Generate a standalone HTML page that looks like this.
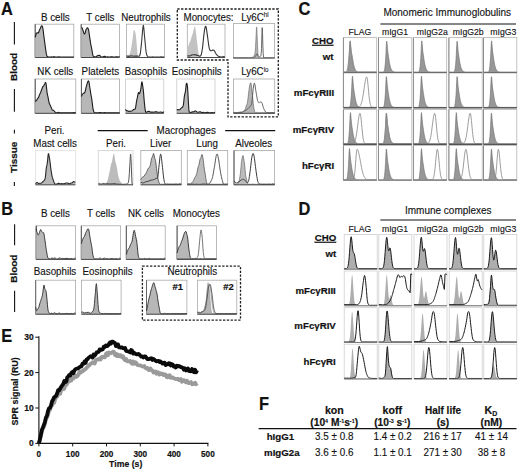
<!DOCTYPE html>
<html><head><meta charset="utf-8"><title>Figure</title>
<style>
html,body{margin:0;padding:0;background:#fff;}
body{width:520px;height:471px;overflow:hidden;}
svg{display:block;font-family:"Liberation Sans",sans-serif;fill:#111;}
svg text{fill:#111;stroke:#111;stroke-width:0.12px;}
svg text[font-weight="bold"]{stroke-width:0.18px;}

</style></head>
<body>
<svg width="520" height="471" viewBox="0 0 520 471">
<rect width="520" height="471" fill="#fff"/>
<text transform="translate(1,14.6) scale(1,1.065)" font-size="16.4" font-weight="bold">A</text>
<line x1="14.4" y1="22.1" x2="14.4" y2="44.4" stroke="#111" stroke-width="1.1"/>
<text transform="translate(17,67) scale(1,1.03) rotate(-90)" x="0" y="0" font-size="9.6" text-anchor="middle" font-weight="bold">Blood</text>
<line x1="14.4" y1="89" x2="14.4" y2="111.7" stroke="#111" stroke-width="1.1"/>
<line x1="14.4" y1="129.7" x2="14.4" y2="133.4" stroke="#111" stroke-width="1.1"/>
<text transform="translate(17,157.4) scale(1,1.03) rotate(-90)" x="0" y="0" font-size="9.6" text-anchor="middle" font-weight="bold">Tissue</text>
<line x1="14.4" y1="182" x2="14.4" y2="186" stroke="#111" stroke-width="1.1"/>
<path d="M177.3,9 H278.3 V116.8 H228 V60 H177.3 Z" fill="none" stroke="#1e1e1e" stroke-width="1.3" stroke-dasharray="2.3,1.5"/>
<text transform="translate(55.3,20.7) scale(1,1.03)" x="0" y="0" font-size="9.8" text-anchor="middle">B cells</text>
<rect x="35.2" y="24.2" width="38.6" height="33.3" fill="#fff" stroke="#a9a9a9" stroke-width="0.8"/>
<line x1="35.2" y1="24.2" x2="35.2" y2="57.5" stroke="#555" stroke-width="1"/>
<polygon points="35.2,57.5 35.2,37.42 35.54,36.17 35.87,34.89 36.21,33.64 36.54,33.13 37.21,32.68 37.55,32.74 37.89,32.94 38.22,33.06 38.56,32.72 38.89,31.77 39.23,30.75 39.56,29.79 39.9,29.17 40.23,28.52 40.57,27.82 40.91,26.91 41.24,26.19 41.58,25.76 41.91,25.76 42.25,26.13 42.58,26.89 42.92,28.67 43.26,31.17 43.59,33.93 43.93,36.57 44.26,38.98 44.6,41.46 44.93,44.1 45.27,46.52 45.61,48.99 45.94,51.23 46.28,53.39 46.61,54.91 46.95,55.97 47.28,56.52 47.62,56.77 47.95,56.81 48.63,57 50.3,57 50.64,56.99 51.31,56.85 51.65,57 52.65,57 52.99,56.93 53.33,56.72 53.66,56.67 54.33,56.7 55,57 57.69,57 58.02,56.94 58.7,56.71 59.03,56.79 59.37,56.96 73.13,57 73.46,56.92 73.8,56.68 73.8,57.5" fill="#b7b7b7" stroke="none"/>
<polyline points="35.2,37.42 35.54,36.17 35.87,34.89 36.21,33.64 36.54,33.13 37.21,32.68 37.55,32.74 37.89,32.94 38.22,33.06 38.56,32.72 38.89,31.77 39.23,30.75 39.56,29.79 39.9,29.17 40.23,28.52 40.57,27.82 40.91,26.91 41.24,26.19 41.58,25.76 41.91,25.76 42.25,26.13 42.58,26.89 42.92,28.67 43.26,31.17 43.59,33.93 43.93,36.57 44.26,38.98 44.6,41.46 44.93,44.1 45.27,46.52 45.61,48.99 45.94,51.23 46.28,53.39 46.61,54.91 46.95,55.97 47.28,56.52 47.62,56.77 47.95,56.81 48.63,57 50.3,57 50.64,56.99 51.31,56.85 51.65,57 52.65,57 52.99,56.93 53.33,56.72 53.66,56.67 54.33,56.7 55,57 57.69,57 58.02,56.94 58.7,56.71 59.03,56.79 59.37,56.96 73.13,57 73.46,56.92 73.8,56.68" fill="none" stroke="#1c1c1c" stroke-width="1.1" stroke-linejoin="round"/>
<line x1="35.2" y1="57.5" x2="73.8" y2="57.5" stroke="#4a4a4a" stroke-width="1"/>
<text transform="translate(100.4,20.7) scale(1,1.03)" x="0" y="0" font-size="9.8" text-anchor="middle">T cells</text>
<rect x="81.2" y="24.2" width="38.3" height="33.3" fill="#fff" stroke="#a9a9a9" stroke-width="0.8"/>
<line x1="81.2" y1="24.2" x2="81.2" y2="57.5" stroke="#555" stroke-width="1"/>
<polygon points="81.2,57.5 81.2,27.76 81.87,27.91 82.21,28.02 82.54,28.92 82.88,30.02 83.22,31.01 83.55,32 83.89,32.95 84.22,33.77 84.56,34.03 84.9,33.66 85.23,32.85 85.57,31.42 85.9,30.08 86.24,29.26 86.58,28.78 86.91,28.22 87.25,27.89 87.58,27.85 87.92,28.22 88.26,28.92 88.59,29.91 88.93,31.91 89.26,34.21 89.6,36.69 89.94,38.93 90.27,41.1 90.61,43.29 90.94,45.12 91.28,46.61 91.61,48.22 91.95,50.12 92.29,52.26 92.62,54.08 92.96,55.41 93.29,56.06 93.63,56.38 93.97,56.48 94.3,56.81 94.64,57 95.31,57 95.65,56.88 96.32,56.41 96.65,56.22 96.99,55.95 97.33,55.76 98.33,55.61 98.67,55.39 99.01,55.29 99.34,55.31 100.01,55.8 100.35,55.95 101.02,56.63 101.36,56.95 102.7,57 103.71,56.57 104.38,56.33 104.72,56.31 105.73,56.82 106.73,56.98 107.74,56.8 108.41,57 109.76,57 111.1,56.77 112.11,56.73 113.12,56.96 115.13,56.97 116.14,56.76 116.48,56.75 117.48,56.91 117.82,57 118.49,57 118.83,56.85 119.5,56.35 119.5,57.5" fill="#b7b7b7" stroke="none"/>
<polyline points="81.2,27.76 81.87,27.91 82.21,28.02 82.54,28.92 82.88,30.02 83.22,31.01 83.55,32 83.89,32.95 84.22,33.77 84.56,34.03 84.9,33.66 85.23,32.85 85.57,31.42 85.9,30.08 86.24,29.26 86.58,28.78 86.91,28.22 87.25,27.89 87.58,27.85 87.92,28.22 88.26,28.92 88.59,29.91 88.93,31.91 89.26,34.21 89.6,36.69 89.94,38.93 90.27,41.1 90.61,43.29 90.94,45.12 91.28,46.61 91.61,48.22 91.95,50.12 92.29,52.26 92.62,54.08 92.96,55.41 93.29,56.06 93.63,56.38 93.97,56.48 94.3,56.81 94.64,57 95.31,57 95.65,56.88 96.32,56.41 96.65,56.22 96.99,55.95 97.33,55.76 98.33,55.61 98.67,55.39 99.01,55.29 99.34,55.31 100.01,55.8 100.35,55.95 101.02,56.63 101.36,56.95 102.7,57 103.71,56.57 104.38,56.33 104.72,56.31 105.73,56.82 106.73,56.98 107.74,56.8 108.41,57 109.76,57 111.1,56.77 112.11,56.73 113.12,56.96 115.13,56.97 116.14,56.76 116.48,56.75 117.48,56.91 117.82,57 118.49,57 118.83,56.85 119.5,56.35" fill="none" stroke="#1c1c1c" stroke-width="1.1" stroke-linejoin="round"/>
<line x1="81.2" y1="57.5" x2="119.5" y2="57.5" stroke="#4a4a4a" stroke-width="1"/>
<text transform="translate(146,20.7) scale(1,1.03)" x="0" y="0" font-size="9.8" text-anchor="middle">Neutrophils</text>
<rect x="126.4" y="24.2" width="38" height="33.3" fill="#fff" stroke="#a9a9a9" stroke-width="0.8"/>
<polygon points="126.4,57.5 126.4,56.72 127.07,56.02 127.4,55.67 128.07,55.29 128.4,54.97 129.07,54.56 129.4,54.29 129.73,53.72 130.07,52.76 130.4,51.51 130.73,50.01 131.07,48.4 131.4,46.63 131.73,44.72 132.07,42.61 132.4,40.24 132.73,37.49 133.07,34.74 133.4,32.25 133.73,30.31 134.07,29.73 134.4,29.92 134.73,30.73 135.07,31.59 135.4,32.74 135.73,34.62 136.07,37.06 136.4,40.51 136.73,44.66 137.07,48.72 137.4,52.56 137.73,55.34 138.07,56.6 138.4,56.92 139.07,56.76 139.4,57 141.73,57 142.07,56.95 143.73,57 144.07,56.92 144.4,56.75 145.4,56.8 145.73,57 148.73,57 149.07,56.96 149.4,56.84 149.73,56.82 150.07,56.98 163.73,57 164.07,56.92 164.4,56.68 164.4,57.5" fill="#c4c4c4" stroke="none"/>
<polyline points="126.4,56.09 127.4,56 128.4,56.36 129.4,56.32 129.73,56.23 130.4,55.92 130.73,55.83 132.73,55.99 133.73,56.25 134.73,56.14 137.07,56.11 138.73,56.28 139.07,56.21 139.4,55.98 139.73,55.46 140.07,54.53 140.4,52.82 140.73,50.25 141.07,47.16 141.4,43.91 141.73,40.69 142.07,36.78 142.4,32.61 142.73,28.89 143.07,26.22 143.4,25.37 143.73,27.27 144.07,30.92 144.4,35.06 144.73,38.48 145.07,41.92 145.4,45.5 145.73,48.89 146.07,51.68 146.4,53.6 146.73,54.85 147.07,55.65 147.4,56.21 147.73,56.7 148.07,57 152.07,57 152.73,56.88 153.4,56.99 160.07,57 161.07,56.79 161.4,56.78 162.73,57 163.73,57 164.4,56.79" fill="none" stroke="#3a3a3a" stroke-width="1.1" stroke-linejoin="round"/>
<line x1="126.4" y1="57.5" x2="164.4" y2="57.5" stroke="#4a4a4a" stroke-width="1"/>
<text transform="translate(183.5,20.5) scale(1,1.03)" x="0" y="0" font-size="9.8" text-anchor="start">Monocytes:</text>
<rect x="187.3" y="24.2" width="37.7" height="33.3" fill="#fff" stroke="#a9a9a9" stroke-width="0.8"/>
<polygon points="187.3,57.5 187.3,49.56 187.63,48.34 187.97,47.1 188.3,45.83 188.63,44.89 188.97,44.03 189.3,43.13 189.64,42.33 189.97,41.66 190.3,41.01 190.64,40.19 190.97,38.97 191.3,37.77 191.64,36.58 191.97,35.62 192.3,34.69 192.64,33.79 192.97,32.72 193.31,31.47 193.64,30.05 193.97,28.65 194.31,27.41 194.64,26.46 194.97,26.36 195.31,27.5 195.64,29.69 195.97,32.59 196.31,35.37 196.64,38.23 196.98,41.11 197.31,43.83 197.64,46.79 197.98,49.65 198.31,52.33 198.64,54.24 198.98,55.48 199.31,56.26 199.64,56.71 199.98,56.81 200.31,56.81 200.65,57 202.65,57 203.31,56.88 203.98,57 204.98,57 205.65,56.66 206.65,56.71 206.98,56.94 207.32,57 209.99,57 210.99,56.68 211.65,56.99 225,57 225,57.5" fill="#c2c2c2" stroke="none"/>
<polyline points="187.3,56.09 188.3,55.82 189.3,56.01 189.64,56 190.3,55.82 190.64,55.7 191.64,55.04 193.31,54.74 193.97,54.7 194.97,54.85 195.64,54.84 195.97,54.88 197.64,55.44 198.64,55.8 199.31,56.12 199.64,56.19 199.98,56.19 200.31,56.06 200.65,55.78 200.98,55.23 201.31,54.34 201.65,52.99 201.98,51.26 202.31,49.17 202.65,46.63 202.98,43.59 203.31,40.27 203.65,37 203.98,34.04 204.32,31.56 204.65,29.44 204.98,27.77 205.32,26.63 205.65,26.23 205.98,26.65 206.32,28.1 206.65,30.2 206.98,32.61 207.32,34.9 207.65,37.25 207.98,39.8 208.32,42.39 208.65,44.82 208.99,46.9 209.32,48.47 209.65,49.56 209.99,50.23 210.32,50.54 210.65,50.68 211.32,50.69 211.99,50.4 212.66,50.04 212.99,50.03 213.66,50.19 213.99,50.39 214.32,50.72 214.66,51.27 214.99,51.9 215.32,52.56 215.99,53.71 216.66,54.7 217.33,55.43 217.99,55.94 218.66,56.3 219.66,56.61 220.33,56.96 221.66,57 222.33,56.84 223,56.67 224,56.71 225,56.86" fill="none" stroke="#333" stroke-width="1.1" stroke-linejoin="round"/>
<line x1="187.3" y1="57.5" x2="225" y2="57.5" stroke="#4a4a4a" stroke-width="1"/>
<text transform="translate(241.3,20.5) scale(1,1.03)" x="0" y="0" font-size="9.8">Ly6C<tspan font-size="6.2" dy="-3.5" stroke-width="0.1">hi</tspan></text>
<rect x="233.4" y="23.6" width="41.2" height="34.7" fill="#fff" stroke="#a9a9a9" stroke-width="0.8"/>
<polygon points="233.4,58.3 233.4,57.8 233.73,57.8 234.07,57.72 234.4,57.5 235.41,57.56 236.08,57.8 240.1,57.8 240.77,57.75 250.82,57.8 251.49,57.42 252.16,57.32 252.49,57.16 252.83,57.07 253.16,56.89 253.5,56.63 253.83,56.02 254.17,55.42 254.5,54.94 254.84,53.89 255.17,51.83 255.51,47.57 255.84,41.12 256.18,34.47 256.51,26.98 256.85,28.28 257.18,37.84 257.52,45.6 257.85,52.49 258.19,56.94 258.52,57.8 270.92,57.8 271.59,57.56 272.26,57.71 272.59,57.76 273.6,57.69 273.93,57.8 274.6,57.8 274.6,58.3" fill="#b2b2b2" stroke="none"/>
<polyline points="233.4,57.8 233.73,57.8 234.07,57.72 234.4,57.5 235.41,57.56 236.08,57.8 240.1,57.8 240.77,57.75 250.82,57.8 251.49,57.42 252.16,57.32 252.49,57.16 252.83,57.07 253.16,56.89 253.5,56.63 253.83,56.02 254.17,55.42 254.5,54.94 254.84,53.89 255.17,51.83 255.51,47.57 255.84,41.12 256.18,34.47 256.51,26.98 256.85,28.28 257.18,37.84 257.52,45.6 257.85,52.49 258.19,56.94 258.52,57.8 270.92,57.8 271.59,57.56 272.26,57.71 272.59,57.76 273.6,57.69 273.93,57.8 274.6,57.8" fill="none" stroke="#777" stroke-width="0.7" stroke-linejoin="round"/>
<polyline points="233.4,57.54 234.4,57.55 235.07,57.8 237.08,57.8 237.75,57.7 238.76,57.79 254.17,57.8 254.5,57.75 254.84,57.34 255.51,56.27 255.84,55.67 256.18,55.1 256.51,54.4 256.85,53.89 257.18,53.91 257.52,54.57 257.85,55.43 258.19,55.95 258.86,56.66 259.19,56.88 259.53,56.97 259.86,56.86 260.53,56.33 260.87,55.65 261.2,53.53 261.54,48.39 261.87,36 262.21,27.63 262.54,33.6 262.88,46.18 263.21,53.7 263.55,56.98 263.88,57.8 272.59,57.8 273.6,57.71 274.6,57.57" fill="none" stroke="#555" stroke-width="0.9" stroke-linejoin="round"/>
<line x1="233.4" y1="58.3" x2="274.6" y2="58.3" stroke="#8a8a8a" stroke-width="1"/>
<text transform="translate(55.3,75.2) scale(1,1.03)" x="0" y="0" font-size="9.8" text-anchor="middle">NK cells</text>
<rect x="35.2" y="79" width="40.6" height="34.3" fill="#fff" stroke="#a9a9a9" stroke-width="0.8"/>
<line x1="35.2" y1="79" x2="35.2" y2="113.3" stroke="#555" stroke-width="1"/>
<polygon points="35.2,113.3 35.2,101.6 35.87,101 36.21,100.6 36.54,100.32 36.88,99.82 37.21,99.14 37.55,98.62 38.22,97.95 38.56,97.37 38.89,96.45 39.23,95.51 39.56,94.63 39.9,93.93 40.23,93.24 40.57,92.55 40.9,91.65 41.24,90.74 41.58,89.81 41.91,88.91 42.25,88 42.58,87.03 42.92,86.58 43.59,86.05 43.92,85.48 44.26,84.68 44.6,84.09 44.93,83.39 45.27,82.54 45.6,82.45 45.94,83.18 46.27,85.45 46.61,88.4 46.94,91.61 47.28,93.8 47.61,95.33 47.95,96.67 48.29,98.53 48.62,100.39 48.96,102.1 49.29,103.24 49.63,104.04 49.96,104.79 50.3,105.53 50.63,106.25 50.97,106.91 51.31,107.6 51.64,108.47 51.98,109.23 52.31,109.88 53.32,110.16 53.99,110.8 54.33,111.08 55,111.99 55.33,112.42 55.67,112.68 56,112.77 57.01,112.79 58.69,112.33 59.36,112.7 59.69,112.8 73.12,112.8 73.79,112.51 74.79,112.74 75.8,112.66 75.8,113.3" fill="#b7b7b7" stroke="none"/>
<polyline points="35.2,101.6 35.87,101 36.21,100.6 36.54,100.32 36.88,99.82 37.21,99.14 37.55,98.62 38.22,97.95 38.56,97.37 38.89,96.45 39.23,95.51 39.56,94.63 39.9,93.93 40.23,93.24 40.57,92.55 40.9,91.65 41.24,90.74 41.58,89.81 41.91,88.91 42.25,88 42.58,87.03 42.92,86.58 43.59,86.05 43.92,85.48 44.26,84.68 44.6,84.09 44.93,83.39 45.27,82.54 45.6,82.45 45.94,83.18 46.27,85.45 46.61,88.4 46.94,91.61 47.28,93.8 47.61,95.33 47.95,96.67 48.29,98.53 48.62,100.39 48.96,102.1 49.29,103.24 49.63,104.04 49.96,104.79 50.3,105.53 50.63,106.25 50.97,106.91 51.31,107.6 51.64,108.47 51.98,109.23 52.31,109.88 53.32,110.16 53.99,110.8 54.33,111.08 55,111.99 55.33,112.42 55.67,112.68 56,112.77 57.01,112.79 58.69,112.33 59.36,112.7 59.69,112.8 73.12,112.8 73.79,112.51 74.79,112.74 75.8,112.66" fill="none" stroke="#1c1c1c" stroke-width="1.1" stroke-linejoin="round"/>
<line x1="35.2" y1="113.3" x2="75.8" y2="113.3" stroke="#4a4a4a" stroke-width="1"/>
<text transform="translate(100.4,75.2) scale(1,1.03)" x="0" y="0" font-size="9.8" text-anchor="middle">Platelets</text>
<rect x="81.4" y="79" width="38.2" height="34.3" fill="#fff" stroke="#a9a9a9" stroke-width="0.8"/>
<line x1="81.4" y1="79" x2="81.4" y2="113.3" stroke="#555" stroke-width="1"/>
<polygon points="81.4,113.3 81.4,96.46 81.74,95.65 82.07,94.87 82.41,94.07 83.08,93.58 83.41,93.26 83.75,93.15 84.42,93.07 84.75,92.57 85.09,91.58 85.42,90.37 85.76,88.88 86.09,87.44 86.43,86.06 86.76,84.94 87.1,83.78 87.43,82.68 87.77,81.74 88.1,81.13 88.44,80.86 88.77,81.1 89.11,82.72 89.44,84.88 89.78,87.23 90.11,89.28 90.45,91.37 90.78,93.62 91.12,95.57 91.45,97.25 91.79,99.29 92.12,101.82 92.46,104.77 92.79,107.33 93.13,109.31 93.46,110.56 93.8,111.47 94.13,112.11 94.47,112.71 94.8,112.8 96.48,112.8 97.15,112.67 97.82,112.8 98.82,112.8 99.49,112.45 100.5,112.5 100.84,112.76 103.52,112.8 103.85,112.79 104.52,112.55 104.86,112.52 105.19,112.69 105.53,112.8 118.93,112.8 119.26,112.72 119.6,112.47 119.6,113.3" fill="#b7b7b7" stroke="none"/>
<polyline points="81.4,96.46 81.74,95.65 82.07,94.87 82.41,94.07 83.08,93.58 83.41,93.26 83.75,93.15 84.42,93.07 84.75,92.57 85.09,91.58 85.42,90.37 85.76,88.88 86.09,87.44 86.43,86.06 86.76,84.94 87.1,83.78 87.43,82.68 87.77,81.74 88.1,81.13 88.44,80.86 88.77,81.1 89.11,82.72 89.44,84.88 89.78,87.23 90.11,89.28 90.45,91.37 90.78,93.62 91.12,95.57 91.45,97.25 91.79,99.29 92.12,101.82 92.46,104.77 92.79,107.33 93.13,109.31 93.46,110.56 93.8,111.47 94.13,112.11 94.47,112.71 94.8,112.8 96.48,112.8 97.15,112.67 97.82,112.8 98.82,112.8 99.49,112.45 100.5,112.5 100.84,112.76 103.52,112.8 103.85,112.79 104.52,112.55 104.86,112.52 105.19,112.69 105.53,112.8 118.93,112.8 119.26,112.72 119.6,112.47" fill="none" stroke="#1c1c1c" stroke-width="1.1" stroke-linejoin="round"/>
<line x1="81.4" y1="113.3" x2="119.6" y2="113.3" stroke="#4a4a4a" stroke-width="1"/>
<text transform="translate(146,75.2) scale(1,1.03)" x="0" y="0" font-size="9.8" text-anchor="middle">Basophils</text>
<rect x="125.6" y="79" width="38.2" height="34.3" fill="#fff" stroke="#c8c8c8" stroke-width="0.8"/>
<polygon points="125.6,113.3 125.6,109.31 125.94,110.02 126.27,110.6 126.61,110.57 127.28,110.81 127.61,110.88 128.62,111.36 128.95,111.39 129.62,111.2 129.96,111.16 130.96,111.21 131.63,110.99 132.3,110.66 132.64,110.41 132.97,109.97 133.64,109.43 134.31,109.19 134.65,109.19 134.98,109.11 135.32,108.53 135.65,107.16 135.99,105.06 136.32,102.7 136.66,100.74 136.99,99.06 137.33,97.67 137.66,95.91 138,94.26 138.33,92.78 138.67,92.58 139,93.02 139.34,93.77 139.67,93.39 140.01,92.36 140.34,91.1 140.68,89.65 141.01,87.78 141.35,84.85 141.68,82.39 142.02,81.88 142.35,83.45 142.69,85.84 143.02,88.02 143.36,90.61 143.69,94.28 144.03,98.71 144.36,102.46 144.7,105.65 145.04,108.74 145.37,110.96 145.71,112.17 146.04,112.45 146.38,112.31 147.05,111.88 148.05,111.49 148.72,111.29 149.06,111.3 149.73,111.73 150.06,111.92 151.07,112.12 152.07,111.92 153.08,112.27 153.41,112.27 155.09,111.91 156.09,111.82 156.43,111.83 157.43,112.13 159.44,112.22 160.45,112.06 160.78,112.06 161.79,112.29 162.46,112.5 162.79,112.54 163.8,111.78 163.8,113.3" fill="#b7b7b7" stroke="none"/>
<polyline points="125.6,109.31 125.94,110.02 126.27,110.6 126.61,110.57 127.28,110.81 127.61,110.88 128.62,111.36 128.95,111.39 129.62,111.2 129.96,111.16 130.96,111.21 131.63,110.99 132.3,110.66 132.64,110.41 132.97,109.97 133.64,109.43 134.31,109.19 134.65,109.19 134.98,109.11 135.32,108.53 135.65,107.16 135.99,105.06 136.32,102.7 136.66,100.74 136.99,99.06 137.33,97.67 137.66,95.91 138,94.26 138.33,92.78 138.67,92.58 139,93.02 139.34,93.77 139.67,93.39 140.01,92.36 140.34,91.1 140.68,89.65 141.01,87.78 141.35,84.85 141.68,82.39 142.02,81.88 142.35,83.45 142.69,85.84 143.02,88.02 143.36,90.61 143.69,94.28 144.03,98.71 144.36,102.46 144.7,105.65 145.04,108.74 145.37,110.96 145.71,112.17 146.04,112.45 146.38,112.31 147.05,111.88 148.05,111.49 148.72,111.29 149.06,111.3 149.73,111.73 150.06,111.92 151.07,112.12 152.07,111.92 153.08,112.27 153.41,112.27 155.09,111.91 156.09,111.82 156.43,111.83 157.43,112.13 159.44,112.22 160.45,112.06 160.78,112.06 161.79,112.29 162.46,112.5 162.79,112.54 163.8,111.78" fill="none" stroke="#1c1c1c" stroke-width="1.1" stroke-linejoin="round"/>
<line x1="125.6" y1="113.3" x2="163.8" y2="113.3" stroke="#4a4a4a" stroke-width="1"/>
<text transform="translate(196.7,75.2) scale(1,1.03)" x="0" y="0" font-size="9.8" text-anchor="middle">Eosinophils</text>
<rect x="176.8" y="79" width="38.2" height="34.3" fill="#fff" stroke="#c8c8c8" stroke-width="0.8"/>
<polygon points="176.8,113.3 176.8,109.95 177.81,109.61 178.48,109.81 179.48,109.69 179.82,109.62 180.15,109.37 180.82,108.47 181.16,108.05 181.49,107.74 182.16,107.46 182.5,107.15 182.83,106.61 183.17,105.67 183.5,104.01 183.84,101.09 184.17,97.73 184.51,95.39 184.84,93.86 185.18,92.56 185.51,90.74 185.85,87.7 186.18,84.35 186.52,83.3 186.85,83.4 187.19,84.59 187.52,87.09 187.86,92.25 188.19,98.33 188.53,104.19 188.86,109.48 189.2,111.86 189.53,112.32 190.2,112.36 190.54,112.62 190.87,112.53 191.88,112.03 192.55,111.73 192.88,111.71 193.55,111.92 193.89,111.89 194.56,111.29 194.89,111.04 195.9,111.02 196.57,111.68 196.91,112.04 197.91,112.31 198.25,112.27 199.92,111.77 200.26,111.76 201.26,112.34 202.27,112.54 203.27,112.37 204.28,112.74 204.61,112.75 206.29,112.45 207.29,112.38 207.63,112.38 208.63,112.65 210.64,112.68 211.65,112.49 211.98,112.48 212.99,112.67 213.66,112.8 213.99,112.8 214.33,112.63 215,112.13 215,113.3" fill="#b7b7b7" stroke="none"/>
<polyline points="176.8,109.95 177.81,109.61 178.48,109.81 179.48,109.69 179.82,109.62 180.15,109.37 180.82,108.47 181.16,108.05 181.49,107.74 182.16,107.46 182.5,107.15 182.83,106.61 183.17,105.67 183.5,104.01 183.84,101.09 184.17,97.73 184.51,95.39 184.84,93.86 185.18,92.56 185.51,90.74 185.85,87.7 186.18,84.35 186.52,83.3 186.85,83.4 187.19,84.59 187.52,87.09 187.86,92.25 188.19,98.33 188.53,104.19 188.86,109.48 189.2,111.86 189.53,112.32 190.2,112.36 190.54,112.62 190.87,112.53 191.88,112.03 192.55,111.73 192.88,111.71 193.55,111.92 193.89,111.89 194.56,111.29 194.89,111.04 195.9,111.02 196.57,111.68 196.91,112.04 197.91,112.31 198.25,112.27 199.92,111.77 200.26,111.76 201.26,112.34 202.27,112.54 203.27,112.37 204.28,112.74 204.61,112.75 206.29,112.45 207.29,112.38 207.63,112.38 208.63,112.65 210.64,112.68 211.65,112.49 211.98,112.48 212.99,112.67 213.66,112.8 213.99,112.8 214.33,112.63 215,112.13" fill="none" stroke="#1c1c1c" stroke-width="1.1" stroke-linejoin="round"/>
<line x1="176.8" y1="113.3" x2="215" y2="113.3" stroke="#4a4a4a" stroke-width="1"/>
<text transform="translate(241.2,75.2) scale(1,1.03)" x="0" y="0" font-size="9.8">Ly6C<tspan font-size="6.2" dy="-3.5" stroke-width="0.1">lo</tspan></text>
<rect x="233.5" y="79" width="41.2" height="34.3" fill="#fff" stroke="#a9a9a9" stroke-width="0.8"/>
<polygon points="233.5,113.3 233.5,112.8 233.83,112.8 234.17,112.67 234.5,112.43 235.51,112.45 236.18,112.71 236.51,112.8 237.18,112.8 237.85,112.68 238.86,112.66 240.53,112.17 240.87,112.06 241.87,112.47 242.21,112.44 242.88,112.25 243.21,111.92 243.55,111.42 243.88,110.84 244.22,110.39 244.55,110.09 244.89,109.71 245.22,109.14 245.56,108.22 245.89,107.14 246.23,106 246.56,105.21 246.9,104.35 247.23,103.42 247.57,101.61 247.9,99.3 248.24,96.51 248.57,93.63 248.91,90.82 249.24,88.29 249.58,86.17 249.91,84.45 250.25,83.41 250.58,82.74 250.92,83 251.25,84.62 251.59,87.33 251.92,90.57 252.26,93.42 252.59,96.54 252.93,100.1 253.26,103.42 253.6,106.31 253.93,108.4 254.27,110.18 254.6,111.61 254.94,112.51 255.27,112.8 255.61,112.8 256.61,112.43 256.95,112.5 257.28,112.68 257.62,112.8 271.02,112.8 271.35,112.62 271.69,112.52 272.36,112.69 272.69,112.74 273.7,112.68 274.03,112.8 274.7,112.8 274.7,113.3" fill="#b5b5b5" stroke="none"/>
<polyline points="233.5,112.8 233.83,112.8 234.17,112.67 234.5,112.43 235.51,112.45 236.18,112.71 236.51,112.8 237.18,112.8 237.85,112.68 238.86,112.66 240.53,112.17 240.87,112.06 241.87,112.47 242.21,112.44 242.88,112.25 243.21,111.92 243.55,111.42 243.88,110.84 244.22,110.39 244.55,110.09 244.89,109.71 245.22,109.14 245.56,108.22 245.89,107.14 246.23,106 246.56,105.21 246.9,104.35 247.23,103.42 247.57,101.61 247.9,99.3 248.24,96.51 248.57,93.63 248.91,90.82 249.24,88.29 249.58,86.17 249.91,84.45 250.25,83.41 250.58,82.74 250.92,83 251.25,84.62 251.59,87.33 251.92,90.57 252.26,93.42 252.59,96.54 252.93,100.1 253.26,103.42 253.6,106.31 253.93,108.4 254.27,110.18 254.6,111.61 254.94,112.51 255.27,112.8 255.61,112.8 256.61,112.43 256.95,112.5 257.28,112.68 257.62,112.8 271.02,112.8 271.35,112.62 271.69,112.52 272.36,112.69 272.69,112.74 273.7,112.68 274.03,112.8 274.7,112.8" fill="none" stroke="#666" stroke-width="0.7" stroke-linejoin="round"/>
<polyline points="233.5,112.54 234.5,112.48 235.17,112.74 236.85,112.8 237.52,112.5 237.85,112.41 239.86,112.34 240.87,112.41 242.54,111.83 243.55,111.39 244.22,111.08 244.89,110.88 245.22,110.73 246.23,109.97 247.23,109.34 247.9,108.7 248.57,108.03 249.24,107.34 249.91,106.92 250.25,106.64 250.58,106.24 250.92,105.64 251.25,104.87 251.59,103.73 251.92,101.96 252.26,99.24 252.59,95.44 252.93,91.48 253.26,88.28 253.6,85.98 253.93,84.2 254.27,83.21 254.6,83.33 254.94,84.74 255.27,87.03 255.61,89.48 255.94,91.36 256.28,93.3 256.61,95.29 256.95,97.33 257.28,99.14 257.62,100.49 257.95,101.46 258.29,102.11 258.62,102.56 258.96,102.82 259.29,102.81 259.63,102.53 259.96,102.14 260.3,102 260.63,101.98 260.97,102.11 261.3,102.13 261.64,102.33 261.97,102.83 262.31,103.79 262.64,104.96 262.98,106.21 263.31,107.35 263.65,108.29 263.98,109.11 264.32,109.81 264.99,110.95 265.66,111.99 265.99,112.4 266.33,112.67 266.66,112.77 267.33,112.79 268.34,112.62 269.34,112.8 271.02,112.8 271.69,112.67 273.7,112.68 274.7,112.57" fill="none" stroke="#555" stroke-width="0.9" stroke-linejoin="round"/>
<line x1="233.5" y1="113.3" x2="274.7" y2="113.3" stroke="#4a4a4a" stroke-width="1"/>
<text transform="translate(54.5,134.4) scale(1,1.03)" x="0" y="0" font-size="9.8" text-anchor="middle">Peri.</text>
<text transform="translate(55.1,146.5) scale(1,1.03)" x="0" y="0" font-size="9.8" text-anchor="middle">Mast cells</text>
<rect x="35.4" y="150.5" width="40" height="34.3" fill="#fff" stroke="#e0e0e0" stroke-width="0.8"/>
<polygon points="35.4,184.8 35.4,183.69 36.07,183.07 36.4,182.75 36.73,182.67 37.4,182.67 37.73,182.83 38.4,183.34 38.73,183.46 39.73,183.29 40.4,183.28 40.73,183.23 41.4,182.93 42.07,182.5 42.4,182.19 42.73,181.74 43.73,180.9 44.4,180.12 44.73,179.67 45.07,178.72 45.4,177.09 45.73,173.8 46.07,169.82 46.4,167.57 46.73,166.01 47.07,164.45 47.4,162.12 47.73,158.88 48.07,155.29 48.4,153.67 48.73,154 49.07,156.15 49.4,157.9 49.73,159.94 50.07,162.11 50.4,164.99 50.73,167.92 51.07,170.33 51.4,172.45 51.73,174.35 52.07,176.07 52.4,177.46 52.73,178.48 53.07,179.45 53.4,180.39 53.73,181.44 54.07,182.35 54.4,183.05 54.73,183.63 55.07,184.05 55.4,184.3 56.4,184.29 57.4,183.64 58.4,183.21 58.73,183.24 59.4,183.59 59.73,183.72 60.73,183.84 61.73,183.62 62.73,183.97 64.07,183.66 65.07,183.39 65.73,183.24 66.4,183.06 67.4,182.94 67.73,183.03 68.73,183.68 69.07,183.86 69.4,183.85 69.73,183.72 70.4,183.33 71.07,183.02 72.07,182.86 72.4,182.64 73.07,181.83 73.4,181.6 74.4,182 75.4,182.13 75.4,184.8" fill="#b8b8b8" stroke="none"/>
<polyline points="35.4,183.69 36.07,183.07 36.4,182.75 36.73,182.67 37.4,182.67 37.73,182.83 38.4,183.34 38.73,183.46 39.73,183.29 40.4,183.28 40.73,183.23 41.4,182.93 42.07,182.5 42.4,182.19 42.73,181.74 43.73,180.9 44.4,180.12 44.73,179.67 45.07,178.72 45.4,177.09 45.73,173.8 46.07,169.82 46.4,167.57 46.73,166.01 47.07,164.45 47.4,162.12 47.73,158.88 48.07,155.29 48.4,153.67 48.73,154 49.07,156.15 49.4,157.9 49.73,159.94 50.07,162.11 50.4,164.99 50.73,167.92 51.07,170.33 51.4,172.45 51.73,174.35 52.07,176.07 52.4,177.46 52.73,178.48 53.07,179.45 53.4,180.39 53.73,181.44 54.07,182.35 54.4,183.05 54.73,183.63 55.07,184.05 55.4,184.3 56.4,184.29 57.4,183.64 58.4,183.21 58.73,183.24 59.4,183.59 59.73,183.72 60.73,183.84 61.73,183.62 62.73,183.97 64.07,183.66 65.07,183.39 65.73,183.24 66.4,183.06 67.4,182.94 67.73,183.03 68.73,183.68 69.07,183.86 69.4,183.85 69.73,183.72 70.4,183.33 71.07,183.02 72.07,182.86 72.4,182.64 73.07,181.83 73.4,181.6 74.4,182 75.4,182.13" fill="none" stroke="#2a2a2a" stroke-width="1.1" stroke-linejoin="round"/>
<line x1="35.4" y1="184.8" x2="75.4" y2="184.8" stroke="#4a4a4a" stroke-width="1"/>
<line x1="97.7" y1="130.6" x2="147.7" y2="130.6" stroke="#111" stroke-width="1.1"/>
<text transform="translate(186.2,134.4) scale(1,1.03)" x="0" y="0" font-size="9.8" text-anchor="middle">Macrophages</text>
<line x1="225.2" y1="130.6" x2="275.2" y2="130.6" stroke="#111" stroke-width="1.1"/>
<text transform="translate(116,146.5) scale(1,1.03)" x="0" y="0" font-size="9.8" text-anchor="middle">Peri.</text>
<rect x="98.3" y="150.5" width="34.7" height="34.3" fill="#fff" stroke="#d2d2d2" stroke-width="0.8"/>
<polygon points="98.3,184.8 98.3,184.3 98.63,184.3 98.97,184.21 99.3,183.99 100.3,184.1 100.64,184.25 103.97,184.3 104.64,184.04 105.31,183.69 105.64,183.37 105.97,183.15 106.31,182.84 106.64,182.43 106.97,181.75 107.31,180.95 107.64,180.05 107.98,178.76 108.31,177.16 108.64,175.41 108.98,173.9 109.31,172.74 109.64,171.54 109.98,170.06 110.31,168.12 110.65,166.12 110.98,164.32 111.31,163.47 111.65,162.81 111.98,162.07 112.31,160.06 112.65,158.07 112.98,156.21 113.31,154.77 113.65,153.75 113.98,153.24 114.32,154.4 114.65,156.64 114.98,159.28 115.32,161.22 115.65,162.39 115.98,163.38 116.32,164.75 116.65,166.51 116.98,168.24 117.32,170.06 117.65,172.2 117.99,174.17 118.32,175.98 118.65,177.25 118.99,178.45 119.32,179.55 119.65,180.31 119.99,180.94 120.32,181.44 120.65,181.88 121.32,182.53 121.66,183.02 121.99,183.59 122.32,184.05 122.66,184.3 133,184.3 133,184.8" fill="#bcbcbc" stroke="none"/>
<polyline points="98.3,183.36 99.3,183.37 100.3,183.84 101.3,183.87 101.64,183.79 102.3,183.5 102.64,183.42 104.64,183.51 105.64,183.72 106.64,183.56 108.64,183.58 109.64,183.8 109.98,183.85 110.98,183.74 111.98,183.8 113.98,183.55 114.98,183.6 116.32,183.9 118.32,184.1 119.32,184.24 120.32,184.29 121.32,184.16 122.32,184.3 123.66,184.3 123.99,184.27 124.66,184.11 125.66,184.19 126.66,183.92 127.33,183.77 127.66,183.65 128,183.29 128.33,182.44 128.66,180.88 129,178.14 129.33,173.55 129.66,168.06 130,162.54 130.33,155.88 130.66,154.06 131,159.08 131.33,166.22 131.67,176.07 132,183.04 132.33,184.3 132.67,184.3 133,184.02" fill="none" stroke="#555" stroke-width="1.0" stroke-linejoin="round"/>
<line x1="98.3" y1="184.8" x2="133" y2="184.8" stroke="#4a4a4a" stroke-width="1"/>
<text transform="translate(160.7,146.5) scale(1,1.03)" x="0" y="0" font-size="9.8" text-anchor="middle">Liver</text>
<rect x="140.8" y="150.5" width="40.5" height="34.3" fill="#fff" stroke="#a9a9a9" stroke-width="0.8"/>
<polygon points="140.8,184.8 140.8,179.84 141.13,179.18 141.47,178.52 141.8,177.85 142.14,177.49 142.81,176.91 143.14,176.74 143.81,176.54 144.15,176.22 144.82,175.06 145.15,174.5 145.82,173.56 146.16,173.06 146.49,172.37 146.82,171.64 147.16,170.88 147.49,170.12 147.83,169.32 148.16,168.48 148.5,168.07 149.17,167.62 149.5,167.11 149.84,166.32 150.17,165.51 150.51,164.31 150.84,162.42 151.18,160.42 151.51,158.57 151.85,157.87 152.51,156.8 152.85,155.47 153.18,154.28 153.52,153.41 153.85,154.1 154.19,155.48 154.52,157.17 154.86,158.33 155.19,159.29 155.53,160.69 155.86,162.87 156.2,165.61 156.53,168.47 156.87,171.26 157.2,173.94 157.54,176.33 157.87,178.45 158.2,179.82 158.54,181.06 158.87,182.11 159.21,183.08 159.54,183.69 160.21,184.13 160.55,184.3 163.9,184.3 164.23,184.22 164.56,184.3 178.62,184.3 179.29,184.02 180.3,184.25 181.3,184.16 181.3,184.8" fill="#bcbcbc" stroke="none"/>
<polyline points="140.8,179.84 141.13,179.18 141.47,178.52 141.8,177.85 142.14,177.49 142.81,176.91 143.14,176.74 143.81,176.54 144.15,176.22 144.82,175.06 145.15,174.5 145.82,173.56 146.16,173.06 146.49,172.37 146.82,171.64 147.16,170.88 147.49,170.12 147.83,169.32 148.16,168.48 148.5,168.07 149.17,167.62 149.5,167.11 149.84,166.32 150.17,165.51 150.51,164.31 150.84,162.42 151.18,160.42 151.51,158.57 151.85,157.87 152.51,156.8 152.85,155.47 153.18,154.28 153.52,153.41 153.85,154.1 154.19,155.48 154.52,157.17 154.86,158.33 155.19,159.29 155.53,160.69 155.86,162.87 156.2,165.61 156.53,168.47 156.87,171.26 157.2,173.94 157.54,176.33 157.87,178.45 158.2,179.82 158.54,181.06 158.87,182.11 159.21,183.08 159.54,183.69 160.21,184.13 160.55,184.3 163.9,184.3 164.23,184.22 164.56,184.3 178.62,184.3 179.29,184.02 180.3,184.25 181.3,184.16" fill="none" stroke="#444" stroke-width="0.8" stroke-linejoin="round"/>
<polyline points="140.8,182.68 141.8,182.53 142.81,182.9 143.14,182.92 143.81,182.8 144.15,182.66 144.82,182.2 145.15,182 146.49,181.66 147.16,181.46 148.16,181.34 149.17,180.84 151.18,180.15 151.51,180.06 152.51,180.05 153.52,179.54 154.52,179.27 155.19,178.94 156.2,178.33 156.53,178.32 156.87,178.48 157.2,178.55 157.54,178.14 157.87,176.92 158.2,174.33 158.54,170.79 158.87,167.29 159.21,164.3 159.54,161.06 159.88,157.91 160.21,155.43 160.55,154.13 160.88,154.42 161.22,156.14 161.55,158.78 161.89,161.83 162.22,164.76 162.56,167.57 162.89,170.79 163.23,174.09 163.56,177.05 163.9,179.52 164.23,181.28 164.56,182.55 164.9,183.37 165.23,183.92 165.57,184.24 166.57,184.3 167.24,184.14 167.58,184.12 168.25,184.27 174.94,184.3 175.94,184.08 176.95,184.23 177.28,184.3 178.62,184.3 179.29,184.1 181.3,184.17" fill="none" stroke="#3a3a3a" stroke-width="1.0" stroke-linejoin="round"/>
<line x1="140.8" y1="184.8" x2="181.3" y2="184.8" stroke="#4a4a4a" stroke-width="1"/>
<text transform="translate(207.1,146.5) scale(1,1.03)" x="0" y="0" font-size="9.8" text-anchor="middle">Lung</text>
<rect x="187.3" y="150.5" width="40.4" height="34.3" fill="#fff" stroke="#a9a9a9" stroke-width="0.8"/>
<polygon points="187.3,184.8 187.3,184.3 187.63,184.3 187.97,184.12 188.3,183.86 189.3,183.77 190.3,183.91 190.64,183.8 191.64,182.95 192.31,182.39 192.64,182.04 192.98,181.53 193.31,180.95 193.64,180.28 193.98,179.57 194.31,178.78 194.65,177.94 194.98,177.34 195.65,176.37 195.98,175.69 196.31,174.81 196.65,173.88 196.98,172.69 197.32,171.01 197.65,169.23 197.98,167.51 198.32,166.58 198.65,165.66 198.99,164.71 199.32,163.03 199.65,161.27 199.99,159.47 200.32,158.63 200.66,158.16 200.99,157.61 201.32,156.25 201.66,154.83 201.99,154.41 202.32,155.12 202.66,156.61 202.99,158.4 203.33,160.48 203.66,163.38 203.99,166.33 204.33,169.16 204.66,170.99 205,172.88 205.33,174.93 205.66,177.32 206,179.52 206.33,181.34 206.67,182.85 207,183.92 207.33,184.3 210,184.3 210.34,184.27 210.67,184.17 211.01,184.3 225.03,184.3 225.7,184.02 226.7,184.25 227.7,184.16 227.7,184.8" fill="#bcbcbc" stroke="none"/>
<polyline points="187.3,184.3 187.63,184.3 187.97,184.12 188.3,183.86 189.3,183.77 190.3,183.91 190.64,183.8 191.64,182.95 192.31,182.39 192.64,182.04 192.98,181.53 193.31,180.95 193.64,180.28 193.98,179.57 194.31,178.78 194.65,177.94 194.98,177.34 195.65,176.37 195.98,175.69 196.31,174.81 196.65,173.88 196.98,172.69 197.32,171.01 197.65,169.23 197.98,167.51 198.32,166.58 198.65,165.66 198.99,164.71 199.32,163.03 199.65,161.27 199.99,159.47 200.32,158.63 200.66,158.16 200.99,157.61 201.32,156.25 201.66,154.83 201.99,154.41 202.32,155.12 202.66,156.61 202.99,158.4 203.33,160.48 203.66,163.38 203.99,166.33 204.33,169.16 204.66,170.99 205,172.88 205.33,174.93 205.66,177.32 206,179.52 206.33,181.34 206.67,182.85 207,183.92 207.33,184.3 210,184.3 210.34,184.27 210.67,184.17 211.01,184.3 225.03,184.3 225.7,184.02 226.7,184.25 227.7,184.16" fill="none" stroke="#555" stroke-width="0.8" stroke-linejoin="round"/>
<polyline points="187.3,184.04 188.3,184.04 188.97,184.3 190.97,184.3 191.64,184.09 193.64,184.18 194.31,184.3 195.31,184.3 195.98,184.22 197.65,184.23 198.32,184.3 200.99,184.3 202.99,183.95 204.33,183.9 205.33,184.07 207.67,184.11 208.33,184.06 208.67,183.97 209,183.79 209.34,183.55 209.67,183.23 210.34,182.2 211.01,181.07 211.34,180.45 211.67,179.73 212.01,178.85 212.34,177.8 212.68,176.54 213.01,174.98 213.34,173.15 213.68,171.16 214.01,169.2 214.34,167.44 214.68,165.53 215.01,163.33 215.35,160.91 215.68,158.63 216.01,156.72 216.35,155.37 216.68,154.4 217.02,153.97 217.35,154.2 217.68,155.17 218.02,156.67 218.35,158.22 218.69,159.94 219.02,162.08 219.35,164.48 219.69,166.83 220.02,169.07 220.35,171.21 220.69,173.13 221.02,174.93 221.36,176.56 221.69,177.99 222.02,179.3 222.36,180.5 222.69,181.8 223.03,183 223.36,183.86 223.69,184.28 225.36,184.3 227.37,184.17 227.7,184.17" fill="none" stroke="#555" stroke-width="1.0" stroke-linejoin="round"/>
<line x1="187.3" y1="184.8" x2="227.7" y2="184.8" stroke="#4a4a4a" stroke-width="1"/>
<text transform="translate(253.7,146.5) scale(1,1.03)" x="0" y="0" font-size="9.8" text-anchor="middle">Alveoles</text>
<rect x="234" y="150.5" width="40.6" height="34.3" fill="#fff" stroke="#a9a9a9" stroke-width="0.8"/>
<line x1="234" y1="150.5" x2="234" y2="184.8" stroke="#555" stroke-width="1"/>
<polygon points="234,184.8 234,184.3 234.34,184.3 235.01,183.96 236.01,184.1 236.68,184.3 237.02,184.3 237.36,184.23 237.69,183.87 238.03,183.41 238.36,182.81 238.7,182.04 239.03,181.04 239.37,179.76 239.7,178.1 240.04,176.14 240.38,173.6 240.71,170.35 241.05,166.72 241.38,163.11 241.72,160.53 242.05,158.52 242.39,156.83 242.72,155.65 243.06,155.53 243.4,156.93 243.73,158.95 244.07,160.76 244.4,162.79 244.74,165.64 245.07,169.52 245.41,173.07 245.74,175.9 246.08,177.62 246.41,179.02 246.75,180.15 247.09,181.43 247.42,182.59 247.76,183.63 248.09,184.25 249.1,184.3 249.77,184.16 250.11,184.14 250.44,184.3 251.45,184.3 251.78,184.19 252.12,183.98 253.13,184.01 253.46,184.2 253.8,184.3 256.48,184.3 256.82,184.26 257.49,184.02 258.16,184.3 271.92,184.3 272.59,184.01 273.59,184.24 274.6,184.16 274.6,184.8" fill="#bcbcbc" stroke="none"/>
<polyline points="234,184.3 234.34,184.3 235.01,183.96 236.01,184.1 236.68,184.3 237.02,184.3 237.36,184.23 237.69,183.87 238.03,183.41 238.36,182.81 238.7,182.04 239.03,181.04 239.37,179.76 239.7,178.1 240.04,176.14 240.38,173.6 240.71,170.35 241.05,166.72 241.38,163.11 241.72,160.53 242.05,158.52 242.39,156.83 242.72,155.65 243.06,155.53 243.4,156.93 243.73,158.95 244.07,160.76 244.4,162.79 244.74,165.64 245.07,169.52 245.41,173.07 245.74,175.9 246.08,177.62 246.41,179.02 246.75,180.15 247.09,181.43 247.42,182.59 247.76,183.63 248.09,184.25 249.1,184.3 249.77,184.16 250.11,184.14 250.44,184.3 251.45,184.3 251.78,184.19 252.12,183.98 253.13,184.01 253.46,184.2 253.8,184.3 256.48,184.3 256.82,184.26 257.49,184.02 258.16,184.3 271.92,184.3 272.59,184.01 273.59,184.24 274.6,184.16" fill="none" stroke="#666" stroke-width="0.7" stroke-linejoin="round"/>
<polyline points="234,181.31 235.01,181.94 235.68,182.6 236.01,182.86 236.35,182.93 237.02,182.87 237.36,182.73 238.36,181.98 239.03,181.7 239.7,181.22 240.38,180.62 241.05,180.2 241.38,180.05 242.05,179.55 242.39,179.33 242.72,179.22 243.06,179.23 243.73,179.45 244.4,179.84 244.74,180.09 245.07,180.45 245.41,180.89 245.74,181.4 246.41,182.06 246.75,182.27 247.42,182.47 247.76,182.47 248.09,182.18 248.43,181.49 248.76,180.27 249.1,178.51 249.43,176.34 249.77,173.89 250.11,171.33 250.44,168.78 250.78,165.87 251.11,162.82 251.45,160.1 251.78,157.8 252.12,156.06 252.45,154.62 252.79,153.71 253.13,153.43 253.46,153.88 253.8,154.96 254.13,156.53 254.47,158.55 254.8,161.03 255.14,163.78 255.47,166.56 255.81,169.15 256.15,171.56 256.48,174.01 256.82,176.28 257.15,178.35 257.49,180.06 257.82,181.4 258.16,182.29 258.49,182.89 259.17,183.71 259.5,184.07 259.84,184.21 260.17,184.21 260.84,184.12 261.51,184.28 268.22,184.3 269.23,184.08 270.24,184.23 270.57,184.3 271.92,184.3 272.59,184.1 274.6,184.17" fill="none" stroke="#3a3a3a" stroke-width="1.0" stroke-linejoin="round"/>
<line x1="234" y1="184.8" x2="274.6" y2="184.8" stroke="#4a4a4a" stroke-width="1"/>
<text transform="translate(1.33,215.4) scale(1,1.065)" font-size="16.4" font-weight="bold">B</text>
<line x1="14.6" y1="224.2" x2="14.6" y2="245.3" stroke="#111" stroke-width="1.1"/>
<text transform="translate(17.2,268.7) scale(1,1.03) rotate(-90)" x="0" y="0" font-size="9.6" text-anchor="middle" font-weight="bold">Blood</text>
<line x1="14.6" y1="290.8" x2="14.6" y2="312" stroke="#111" stroke-width="1.1"/>
<text transform="translate(55.4,216.6) scale(1,1.03)" x="0" y="0" font-size="9.8" text-anchor="middle">B cells</text>
<rect x="36.2" y="225.8" width="39.4" height="33.6" fill="#fff" stroke="#a9a9a9" stroke-width="0.8"/>
<line x1="36.2" y1="225.8" x2="36.2" y2="259.4" stroke="#333" stroke-width="1"/>
<polygon points="36.2,259.4 36.2,228.97 36.53,230.45 36.87,231.86 37.2,232.56 37.54,233.78 37.87,234.75 38.2,235.06 38.54,234.74 38.87,234 39.21,233.26 39.54,232.52 39.87,231.28 40.21,230.21 40.54,229.59 40.87,229.8 41.21,230.38 41.54,231.08 41.88,231.41 42.54,232.29 42.88,232.7 43.21,232.77 43.55,232.63 43.88,233.43 44.21,235.21 44.55,237.54 44.88,239.84 45.22,242.02 45.55,244.5 45.88,247.13 46.22,249.34 46.55,251.27 46.88,253.11 47.22,255.25 47.55,256.92 47.89,258.01 48.22,258.35 48.55,258.38 48.89,258.33 49.22,258.53 49.56,258.79 49.89,258.9 50.22,258.9 50.56,258.79 51.23,258.35 51.89,258.07 52.23,258.02 53.23,258.64 54.23,257.99 55.23,258.09 55.57,258.3 56.23,258.9 57.57,258.9 57.9,258.8 58.57,258.38 59.57,257.87 60.24,258.17 60.57,258.35 61.58,258.55 61.91,258.54 62.58,258.4 62.91,258.38 63.91,258.81 65.92,258.39 66.92,258.34 68.25,258.67 70.26,258.74 71.26,258.52 72.26,258.69 72.93,258.89 73.6,258.9 74.26,258.39 74.6,258.18 75.6,258.51 75.6,259.4" fill="#b7b7b7" stroke="none"/>
<polyline points="36.2,228.97 36.53,230.45 36.87,231.86 37.2,232.56 37.54,233.78 37.87,234.75 38.2,235.06 38.54,234.74 38.87,234 39.21,233.26 39.54,232.52 39.87,231.28 40.21,230.21 40.54,229.59 40.87,229.8 41.21,230.38 41.54,231.08 41.88,231.41 42.54,232.29 42.88,232.7 43.21,232.77 43.55,232.63 43.88,233.43 44.21,235.21 44.55,237.54 44.88,239.84 45.22,242.02 45.55,244.5 45.88,247.13 46.22,249.34 46.55,251.27 46.88,253.11 47.22,255.25 47.55,256.92 47.89,258.01 48.22,258.35 48.55,258.38 48.89,258.33 49.22,258.53 49.56,258.79 49.89,258.9 50.22,258.9 50.56,258.79 51.23,258.35 51.89,258.07 52.23,258.02 53.23,258.64 54.23,257.99 55.23,258.09 55.57,258.3 56.23,258.9 57.57,258.9 57.9,258.8 58.57,258.38 59.57,257.87 60.24,258.17 60.57,258.35 61.58,258.55 61.91,258.54 62.58,258.4 62.91,258.38 63.91,258.81 65.92,258.39 66.92,258.34 68.25,258.67 70.26,258.74 71.26,258.52 72.26,258.69 72.93,258.89 73.6,258.9 74.26,258.39 74.6,258.18 75.6,258.51" fill="none" stroke="#2a2a2a" stroke-width="0.9" stroke-linejoin="round"/>
<line x1="36.2" y1="259.4" x2="75.6" y2="259.4" stroke="#4a4a4a" stroke-width="1"/>
<text transform="translate(101,216.6) scale(1,1.03)" x="0" y="0" font-size="9.8" text-anchor="middle">T cells</text>
<rect x="81.3" y="225.8" width="39.3" height="33.6" fill="#fff" stroke="#a9a9a9" stroke-width="0.8"/>
<line x1="81.3" y1="225.8" x2="81.3" y2="259.4" stroke="#555" stroke-width="1"/>
<polygon points="81.3,259.4 81.3,243.67 81.64,242.6 81.97,241.54 82.31,240.35 82.64,239.57 82.98,238.76 83.32,237.86 83.65,237.27 83.99,236.91 84.32,236.66 84.66,235.98 84.99,234.88 85.33,233.8 85.67,232.89 86,232.29 86.34,231.71 86.67,231.06 87.01,230.2 87.35,229.45 87.68,228.9 88.02,228.72 88.35,228.88 88.69,229.37 89.03,231.11 89.36,233.19 89.7,235.42 90.03,237.35 90.37,239.28 90.71,241.35 91.04,243.05 91.38,244.57 91.71,246.48 92.05,248.93 92.38,251.72 92.72,254.09 93.06,255.87 93.39,256.98 93.73,257.76 94.06,258.25 94.4,258.82 94.74,258.9 96.42,258.9 97.09,258.67 97.42,258.7 97.76,258.84 98.43,258.9 99.1,258.38 99.44,258.16 100.11,258.14 100.45,258.16 101.12,258.77 101.45,258.9 102.8,258.9 104.14,258.27 104.48,258.13 104.81,258.13 105.48,258.53 105.82,258.69 106.83,258.85 107.84,258.63 108.51,258.9 109.85,258.88 110.86,258.65 111.87,258.57 112.2,258.58 113.21,258.85 115.23,258.88 116.23,258.64 117.24,258.77 117.91,258.9 118.58,258.9 118.92,258.73 119.26,258.44 119.59,258.21 120.6,258.51 120.6,259.4" fill="#b7b7b7" stroke="none"/>
<polyline points="81.3,243.67 81.64,242.6 81.97,241.54 82.31,240.35 82.64,239.57 82.98,238.76 83.32,237.86 83.65,237.27 83.99,236.91 84.32,236.66 84.66,235.98 84.99,234.88 85.33,233.8 85.67,232.89 86,232.29 86.34,231.71 86.67,231.06 87.01,230.2 87.35,229.45 87.68,228.9 88.02,228.72 88.35,228.88 88.69,229.37 89.03,231.11 89.36,233.19 89.7,235.42 90.03,237.35 90.37,239.28 90.71,241.35 91.04,243.05 91.38,244.57 91.71,246.48 92.05,248.93 92.38,251.72 92.72,254.09 93.06,255.87 93.39,256.98 93.73,257.76 94.06,258.25 94.4,258.82 94.74,258.9 96.42,258.9 97.09,258.67 97.42,258.7 97.76,258.84 98.43,258.9 99.1,258.38 99.44,258.16 100.11,258.14 100.45,258.16 101.12,258.77 101.45,258.9 102.8,258.9 104.14,258.27 104.48,258.13 104.81,258.13 105.48,258.53 105.82,258.69 106.83,258.85 107.84,258.63 108.51,258.9 109.85,258.88 110.86,258.65 111.87,258.57 112.2,258.58 113.21,258.85 115.23,258.88 116.23,258.64 117.24,258.77 117.91,258.9 118.58,258.9 118.92,258.73 119.26,258.44 119.59,258.21 120.6,258.51" fill="none" stroke="#2a2a2a" stroke-width="0.9" stroke-linejoin="round"/>
<line x1="81.3" y1="259.4" x2="120.6" y2="259.4" stroke="#4a4a4a" stroke-width="1"/>
<text transform="translate(146,216.6) scale(1,1.03)" x="0" y="0" font-size="9.8" text-anchor="middle">NK cells</text>
<rect x="126.3" y="225.8" width="38.9" height="33.6" fill="#fff" stroke="#a9a9a9" stroke-width="0.8"/>
<line x1="126.3" y1="225.8" x2="126.3" y2="259.4" stroke="#555" stroke-width="1"/>
<polygon points="126.3,259.4 126.3,254.61 126.64,253.52 126.97,252.4 127.31,251.24 127.64,250.47 127.98,249.76 128.31,249.04 128.65,248.52 129.32,247.68 129.65,246.95 129.99,245.98 130.32,245.04 130.66,244.3 131.33,243.18 131.67,242.42 132,241.3 132.34,239.8 132.67,237.67 133.01,235.36 133.34,233.3 133.68,231.29 134.01,230.45 134.35,230.38 134.68,231.49 135.02,232.77 135.35,234.56 135.69,236.55 136.03,237.92 136.36,239.4 136.7,241.18 137.03,243.89 137.37,247.08 137.7,250.72 138.04,253.97 138.37,256.24 138.71,257.42 139.04,258.04 139.38,258.56 139.71,258.9 141.06,258.9 141.39,258.87 142.06,258.66 142.4,258.82 142.73,258.9 143.4,258.9 143.74,258.73 144.07,258.48 144.41,258.42 145.08,258.44 145.41,258.62 145.75,258.9 148.1,258.9 149.44,258.36 150.11,258.75 150.44,258.9 155.14,258.9 156.48,258.75 156.82,258.73 157.49,258.9 160.17,258.9 160.84,258.73 161.18,258.72 162.18,258.9 163.19,258.9 163.52,258.77 164.19,258.22 165.2,258.51 165.2,259.4" fill="#b7b7b7" stroke="none"/>
<polyline points="126.3,254.61 126.64,253.52 126.97,252.4 127.31,251.24 127.64,250.47 127.98,249.76 128.31,249.04 128.65,248.52 129.32,247.68 129.65,246.95 129.99,245.98 130.32,245.04 130.66,244.3 131.33,243.18 131.67,242.42 132,241.3 132.34,239.8 132.67,237.67 133.01,235.36 133.34,233.3 133.68,231.29 134.01,230.45 134.35,230.38 134.68,231.49 135.02,232.77 135.35,234.56 135.69,236.55 136.03,237.92 136.36,239.4 136.7,241.18 137.03,243.89 137.37,247.08 137.7,250.72 138.04,253.97 138.37,256.24 138.71,257.42 139.04,258.04 139.38,258.56 139.71,258.9 141.06,258.9 141.39,258.87 142.06,258.66 142.4,258.82 142.73,258.9 143.4,258.9 143.74,258.73 144.07,258.48 144.41,258.42 145.08,258.44 145.41,258.62 145.75,258.9 148.1,258.9 149.44,258.36 150.11,258.75 150.44,258.9 155.14,258.9 156.48,258.75 156.82,258.73 157.49,258.9 160.17,258.9 160.84,258.73 161.18,258.72 162.18,258.9 163.19,258.9 163.52,258.77 164.19,258.22 165.2,258.51" fill="none" stroke="#2a2a2a" stroke-width="0.9" stroke-linejoin="round"/>
<line x1="126.3" y1="259.4" x2="165.2" y2="259.4" stroke="#4a4a4a" stroke-width="1"/>
<text transform="translate(196.3,216.6) scale(1,1.03)" x="0" y="0" font-size="9.8" text-anchor="middle">Monocytes</text>
<rect x="177.1" y="225.8" width="39.3" height="33.6" fill="#fff" stroke="#a9a9a9" stroke-width="0.8"/>
<line x1="177.1" y1="225.8" x2="177.1" y2="259.4" stroke="#555" stroke-width="1"/>
<polygon points="177.1,259.4 177.1,253.05 177.44,251.81 177.77,250.54 178.11,249.22 178.44,248.32 178.78,247.52 179.12,246.71 179.45,246.14 180.12,245.3 180.46,244.59 180.79,243.56 181.13,242.51 181.47,241.55 181.8,240.77 182.14,239.99 182.47,239.16 182.81,238.1 183.15,237 183.48,235.88 183.82,234.8 184.15,233.7 184.49,232.58 184.83,232.2 185.16,231.75 185.83,231.37 186.17,231.89 186.51,233.16 186.84,234.36 187.18,235.44 187.51,236.84 187.85,239.26 188.18,242.67 188.52,246.02 188.86,248.96 189.19,251.32 189.53,253.63 189.86,255.62 190.2,257.4 190.54,258.42 190.87,258.9 191.88,258.88 192.89,258.71 193.22,258.77 193.56,258.9 194.23,258.9 194.57,258.85 194.9,258.6 195.24,258.42 196.25,258.5 196.58,258.81 196.92,258.9 199.27,258.9 200.28,258.54 200.61,258.54 201.28,258.9 214.72,258.9 215.06,258.77 215.39,258.55 216.4,258.84 216.4,259.4" fill="#b7b7b7" stroke="none"/>
<polyline points="177.1,253.05 177.44,251.81 177.77,250.54 178.11,249.22 178.44,248.32 178.78,247.52 179.12,246.71 179.45,246.14 180.12,245.3 180.46,244.59 180.79,243.56 181.13,242.51 181.47,241.55 181.8,240.77 182.14,239.99 182.47,239.16 182.81,238.1 183.15,237 183.48,235.88 183.82,234.8 184.15,233.7 184.49,232.58 184.83,232.2 185.16,231.75 185.83,231.37 186.17,231.89 186.51,233.16 186.84,234.36 187.18,235.44 187.51,236.84 187.85,239.26 188.18,242.67 188.52,246.02 188.86,248.96 189.19,251.32 189.53,253.63 189.86,255.62 190.2,257.4 190.54,258.42 190.87,258.9 191.88,258.88 192.89,258.71 193.22,258.77 193.56,258.9 194.23,258.9 194.57,258.85 194.9,258.6 195.24,258.42 196.25,258.5 196.58,258.81 196.92,258.9 199.27,258.9 200.28,258.54 200.61,258.54 201.28,258.9 214.72,258.9 215.06,258.77 215.39,258.55 216.4,258.84" fill="none" stroke="#2a2a2a" stroke-width="0.9" stroke-linejoin="round"/>
<polyline points="177.1,258.65 178.11,258.66 178.78,258.9 180.79,258.9 181.47,258.76 183.82,258.9 191.54,258.9 192.89,258.73 193.89,258.69 195.24,258.85 195.57,258.8 195.91,258.69 196.25,258.5 196.58,258.2 196.92,257.82 197.25,257.5 197.59,257.06 197.93,256.22 198.26,254.74 198.6,252.27 198.93,248.89 199.27,245.08 199.61,241.2 199.94,237.73 200.28,234.36 200.61,231.46 200.95,229.93 201.28,230.25 201.62,232.15 201.96,235.01 202.29,238.38 202.63,242.88 202.96,247.97 203.3,252.49 203.64,255.23 203.97,256.82 204.31,257.66 204.64,258.28 204.98,258.7 205.32,258.87 211.03,258.9 211.36,258.9 212.03,258.72 213.04,258.82 213.71,258.9 214.72,258.9 215.39,258.69 216.4,258.74" fill="none" stroke="#666" stroke-width="0.9" stroke-linejoin="round"/>
<line x1="177.1" y1="259.4" x2="216.4" y2="259.4" stroke="#4a4a4a" stroke-width="1"/>
<text transform="translate(55,275) scale(1,1.03)" x="0" y="0" font-size="9.8" text-anchor="middle">Basophils</text>
<rect x="35.7" y="280.2" width="39.9" height="34" fill="#fff" stroke="#a9a9a9" stroke-width="0.8"/>
<line x1="35.7" y1="280.2" x2="35.7" y2="314.2" stroke="#666" stroke-width="1"/>
<polygon points="35.7,314.2 35.7,307.14 36.04,309.01 36.37,310.64 36.71,310.74 37.04,310.48 37.38,309.95 37.71,309.22 38.05,308.57 38.38,307.99 38.72,307.27 39.05,306.34 39.39,305.08 39.72,303.85 40.06,302.66 40.39,301.64 40.73,300.63 41.06,299.65 41.4,298.51 41.74,297.55 42.07,296.58 42.41,295.31 42.74,293.31 43.08,290.54 43.41,288.17 43.75,285.97 44.08,285.1 44.42,286.62 44.75,288.57 45.09,289.52 45.76,290.25 46.09,291.76 46.43,293.86 46.76,297.21 47.1,300.82 47.44,304.76 47.77,308.14 48.11,310.46 48.44,311.62 48.78,312.2 49.45,313.22 49.78,313.61 50.45,313.5 51.79,313.14 52.13,313.26 52.8,313.63 53.14,313.57 53.81,313.08 54.14,312.92 54.81,312.96 55.15,313.01 55.82,313.63 56.15,313.7 57.83,313.69 58.5,313.35 59.17,313.07 59.51,313.01 60.51,313.59 61.18,313.7 61.85,313.7 62.52,313.57 63.19,313.7 64.87,313.7 65.88,313.5 66.88,313.43 67.89,313.67 70.24,313.7 71.24,313.44 72.25,313.6 72.58,313.68 73.59,313.7 73.92,313.5 74.26,313.21 74.59,313.01 75.6,313.31 75.6,314.2" fill="#b7b7b7" stroke="none"/>
<polyline points="35.7,307.14 36.04,309.01 36.37,310.64 36.71,310.74 37.04,310.48 37.38,309.95 37.71,309.22 38.05,308.57 38.38,307.99 38.72,307.27 39.05,306.34 39.39,305.08 39.72,303.85 40.06,302.66 40.39,301.64 40.73,300.63 41.06,299.65 41.4,298.51 41.74,297.55 42.07,296.58 42.41,295.31 42.74,293.31 43.08,290.54 43.41,288.17 43.75,285.97 44.08,285.1 44.42,286.62 44.75,288.57 45.09,289.52 45.76,290.25 46.09,291.76 46.43,293.86 46.76,297.21 47.1,300.82 47.44,304.76 47.77,308.14 48.11,310.46 48.44,311.62 48.78,312.2 49.45,313.22 49.78,313.61 50.45,313.5 51.79,313.14 52.13,313.26 52.8,313.63 53.14,313.57 53.81,313.08 54.14,312.92 54.81,312.96 55.15,313.01 55.82,313.63 56.15,313.7 57.83,313.69 58.5,313.35 59.17,313.07 59.51,313.01 60.51,313.59 61.18,313.7 61.85,313.7 62.52,313.57 63.19,313.7 64.87,313.7 65.88,313.5 66.88,313.43 67.89,313.67 70.24,313.7 71.24,313.44 72.25,313.6 72.58,313.68 73.59,313.7 73.92,313.5 74.26,313.21 74.59,313.01 75.6,313.31" fill="none" stroke="#2a2a2a" stroke-width="0.9" stroke-linejoin="round"/>
<line x1="35.7" y1="314.2" x2="75.6" y2="314.2" stroke="#4a4a4a" stroke-width="1"/>
<text transform="translate(107.6,275) scale(1,1.03)" x="0" y="0" font-size="9.8" text-anchor="middle">Eosinophils</text>
<rect x="81.4" y="280.2" width="39.7" height="34" fill="#fff" stroke="#a9a9a9" stroke-width="0.8"/>
<polygon points="81.4,314.2 81.4,312.21 82.4,311.93 83.07,312.26 83.74,312.52 84.4,312.84 84.74,312.87 85.4,312.55 85.74,312.42 86.4,312.43 86.74,312.48 88.74,312.39 89.07,312.5 89.74,312.99 90.07,313.19 90.74,313.22 91.07,313.18 91.41,312.78 91.74,312.32 92.08,311.77 92.74,311.32 93.08,311.05 93.41,310.32 93.74,308.98 94.08,306.92 94.41,303.75 94.74,299.82 95.08,295.91 95.41,292.61 95.75,288.07 96.08,284.45 96.41,283.67 96.75,286.48 97.08,290.86 97.41,294.92 97.75,299.82 98.08,304.71 98.41,308.61 98.75,310.8 99.08,311.84 99.42,312.31 100.08,313 100.42,313.22 100.75,313.35 101.08,313.66 103.75,313.7 104.09,313.64 104.75,313.38 105.09,313.33 105.75,313.7 119.43,313.7 120.1,313.35 121.1,313.64 121.1,314.2" fill="#b0b0b0" stroke="none"/>
<polyline points="81.4,312.21 82.4,311.93 83.07,312.26 83.74,312.52 84.4,312.84 84.74,312.87 85.4,312.55 85.74,312.42 86.4,312.43 86.74,312.48 88.74,312.39 89.07,312.5 89.74,312.99 90.07,313.19 90.74,313.22 91.07,313.18 91.41,312.78 91.74,312.32 92.08,311.77 92.74,311.32 93.08,311.05 93.41,310.32 93.74,308.98 94.08,306.92 94.41,303.75 94.74,299.82 95.08,295.91 95.41,292.61 95.75,288.07 96.08,284.45 96.41,283.67 96.75,286.48 97.08,290.86 97.41,294.92 97.75,299.82 98.08,304.71 98.41,308.61 98.75,310.8 99.08,311.84 99.42,312.31 100.08,313 100.42,313.22 100.75,313.35 101.08,313.66 103.75,313.7 104.09,313.64 104.75,313.38 105.09,313.33 105.75,313.7 119.43,313.7 120.1,313.35 121.1,313.64" fill="none" stroke="#333" stroke-width="0.9" stroke-linejoin="round"/>
<line x1="81.4" y1="314.2" x2="121.1" y2="314.2" stroke="#4a4a4a" stroke-width="1"/>
<rect x="142.4" y="266.2" width="98.1" height="53.9" fill="none" stroke="#1e1e1e" stroke-width="1.3" stroke-dasharray="2.3,1.5"/>
<text transform="translate(192.3,275) scale(1,1.03)" x="0" y="0" font-size="9.8" text-anchor="middle">Neutrophils</text>
<rect x="146.5" y="280.2" width="40.4" height="34" fill="#fff" stroke="#a9a9a9" stroke-width="0.8"/>
<line x1="146.5" y1="280.2" x2="146.5" y2="314.2" stroke="#666" stroke-width="1"/>
<polygon points="146.5,314.2 146.5,310.94 146.83,309.31 147.17,307.62 147.5,305.8 147.84,304.18 148.17,302.48 148.5,300.71 148.84,299.18 149.17,297.93 149.5,296.88 149.84,295.6 150.17,293.95 150.51,292.32 150.84,290.83 151.17,289.65 151.51,288.56 151.84,287.54 152.18,286.33 152.51,285.23 152.84,284.25 153.18,283.49 153.51,282.93 153.85,282.61 154.18,283.41 154.51,284.71 154.85,286.1 155.18,287.19 155.51,288.13 155.85,289.39 156.18,290.72 156.52,291.76 156.85,293.12 157.18,294.79 157.52,297.34 157.85,299.82 158.19,302.27 158.52,304.12 158.85,305.89 159.19,307.55 159.52,309.52 159.86,311.33 160.19,312.76 160.52,313.51 160.86,313.7 161.52,313.7 162.19,313.56 162.53,313.54 162.86,313.7 163.86,313.7 164.2,313.6 164.53,313.36 165.53,313.4 165.87,313.62 166.2,313.7 168.87,313.7 169.2,313.69 169.87,313.42 170.21,313.59 170.54,313.7 184.23,313.7 184.9,313.37 185.9,313.63 186.9,313.54 186.9,314.2" fill="#b7b7b7" stroke="none"/>
<polyline points="146.5,310.94 146.83,309.31 147.17,307.62 147.5,305.8 147.84,304.18 148.17,302.48 148.5,300.71 148.84,299.18 149.17,297.93 149.5,296.88 149.84,295.6 150.17,293.95 150.51,292.32 150.84,290.83 151.17,289.65 151.51,288.56 151.84,287.54 152.18,286.33 152.51,285.23 152.84,284.25 153.18,283.49 153.51,282.93 153.85,282.61 154.18,283.41 154.51,284.71 154.85,286.1 155.18,287.19 155.51,288.13 155.85,289.39 156.18,290.72 156.52,291.76 156.85,293.12 157.18,294.79 157.52,297.34 157.85,299.82 158.19,302.27 158.52,304.12 158.85,305.89 159.19,307.55 159.52,309.52 159.86,311.33 160.19,312.76 160.52,313.51 160.86,313.7 161.52,313.7 162.19,313.56 162.53,313.54 162.86,313.7 163.86,313.7 164.2,313.6 164.53,313.36 165.53,313.4 165.87,313.62 166.2,313.7 168.87,313.7 169.2,313.69 169.87,313.42 170.21,313.59 170.54,313.7 184.23,313.7 184.9,313.37 185.9,313.63 186.9,313.54" fill="none" stroke="#2a2a2a" stroke-width="0.9" stroke-linejoin="round"/>
<line x1="146.5" y1="314.2" x2="186.9" y2="314.2" stroke="#4a4a4a" stroke-width="1"/>
<text transform="translate(172.6,290) scale(1,1.03)" x="0" y="0" font-size="9.4" text-anchor="start" font-weight="bold">#1</text>
<rect x="197.4" y="280.2" width="39.4" height="34" fill="#fff" stroke="#a9a9a9" stroke-width="0.8"/>
<polygon points="197.4,314.2 197.4,313.16 198.07,312.52 198.4,312.22 199.4,312.17 200.41,312.55 200.74,312.54 201.41,312.1 201.74,311.92 202.41,311.77 202.74,311.64 203.08,311.32 203.41,310.88 203.74,310.27 204.08,309.5 204.41,308.49 204.75,307.22 205.08,306.01 205.41,304.77 205.75,303.34 206.08,301.48 206.42,298.42 206.75,294.49 207.08,290.44 207.42,286.63 207.75,283.86 208.08,282.62 208.42,283.81 208.75,285.61 209.09,288.13 209.42,290.87 209.75,294.94 210.09,299.46 210.42,303.8 210.76,307.29 211.09,310.12 211.42,311.97 211.76,312.95 212.09,313.45 212.43,313.63 212.76,313.62 213.43,313.5 213.76,313.69 214.76,313.7 215.1,313.62 215.43,313.39 216.43,313.41 216.77,313.61 217.1,313.7 220.11,313.7 220.77,313.48 221.44,313.7 235.13,313.7 235.46,313.56 235.8,313.35 236.8,313.64 236.8,314.2" fill="#b5b5b5" stroke="none"/>
<polyline points="197.4,313.16 198.07,312.52 198.4,312.22 199.4,312.17 200.41,312.55 200.74,312.54 201.41,312.1 201.74,311.92 202.41,311.77 202.74,311.64 203.08,311.32 203.41,310.88 203.74,310.27 204.08,309.5 204.41,308.49 204.75,307.22 205.08,306.01 205.41,304.77 205.75,303.34 206.08,301.48 206.42,298.42 206.75,294.49 207.08,290.44 207.42,286.63 207.75,283.86 208.08,282.62 208.42,283.81 208.75,285.61 209.09,288.13 209.42,290.87 209.75,294.94 210.09,299.46 210.42,303.8 210.76,307.29 211.09,310.12 211.42,311.97 211.76,312.95 212.09,313.45 212.43,313.63 212.76,313.62 213.43,313.5 213.76,313.69 214.76,313.7 215.1,313.62 215.43,313.39 216.43,313.41 216.77,313.61 217.1,313.7 220.11,313.7 220.77,313.48 221.44,313.7 235.13,313.7 235.46,313.56 235.8,313.35 236.8,313.64" fill="none" stroke="#999" stroke-width="0.6" stroke-linejoin="round"/>
<polyline points="197.4,312.43 198.4,312.32 199.4,312.72 199.74,312.75 200.41,312.62 200.74,312.47 201.41,311.92 201.74,311.68 202.41,311.45 202.74,311.29 203.08,311.05 203.41,310.72 203.74,310.26 204.08,309.73 204.41,309.04 204.75,308.18 205.08,307.01 205.41,305.55 205.75,303.85 206.08,301.94 206.42,299.47 206.75,296.4 207.08,293.19 207.42,290.31 207.75,288.17 208.08,286.5 208.42,285.42 208.75,284.8 209.09,284.72 209.42,284.8 209.75,285.45 210.09,286.62 210.42,288.37 210.76,290.5 211.09,293.14 211.42,296.36 211.76,299.76 212.09,302.98 212.43,305.57 212.76,307.61 213.09,309.31 213.43,310.71 213.76,311.88 214.09,312.78 214.43,313.28 214.76,313.54 215.76,313.7 223.44,313.7 224.11,313.63 224.78,313.7 231.46,313.7 232.46,313.48 233.46,313.6 234.13,313.7 235.13,313.7 235.8,313.49 236.8,313.54" fill="none" stroke="#888" stroke-width="0.8" stroke-linejoin="round"/>
<polyline points="197.4,312.43 198.4,312.36 199.4,312.82 199.74,312.87 200.41,312.8 200.74,312.69 201.74,312.01 203.08,311.54 203.74,311.2 204.08,310.96 204.41,310.63 204.75,310.15 205.08,309.39 205.41,308.35 205.75,306.82 206.08,304.9 206.42,302.76 206.75,300.46 207.08,298.16 207.42,295.88 207.75,293.21 208.08,290.41 208.42,288.08 208.75,286.39 209.09,285.48 209.42,284.63 209.75,284.21 210.09,284.24 210.42,284.88 210.76,286.16 211.09,287.97 211.42,290.04 211.76,292.22 212.09,294.49 212.43,297.21 212.76,300.23 213.09,303.2 213.43,305.81 213.76,307.84 214.09,309.44 214.43,310.68 214.76,311.71 215.1,312.53 215.43,313.13 215.76,313.48 216.1,313.65 223.44,313.7 224.11,313.64 224.78,313.7 231.46,313.7 232.46,313.48 233.46,313.6 234.13,313.7 235.13,313.7 235.8,313.49 236.8,313.54" fill="none" stroke="#444" stroke-width="0.8" stroke-linejoin="round"/>
<line x1="197.4" y1="314.2" x2="236.8" y2="314.2" stroke="#4a4a4a" stroke-width="1"/>
<text transform="translate(223.3,290) scale(1,1.03)" x="0" y="0" font-size="9.4" text-anchor="start" font-weight="bold">#2</text>
<text transform="translate(1.33,341.6) scale(1,1.065)" font-size="16.4" font-weight="bold">E</text>
<polyline points="38.9,443.4 39.91,439.17 40.93,435.89 41.94,431.54 42.96,428.08 43.97,426.68 44.98,423.84 46,418.39 47.01,417.56 48.03,415.12 49.04,410.31 50.05,409.73 51.07,406.43 52.08,405.55 53.1,403.11 54.11,402.84 55.12,399.56 56.14,397.16 57.15,396.67 58.17,394.46 59.18,393.24 60.19,393.79 61.21,390.25 62.22,389.5 63.24,389.19 64.25,388.87 65.26,385.06 66.28,385.21 67.29,383.36 68.31,381.81 69.32,381.33 70.33,379.69 71.35,380.42 72.36,378.2 73.38,378.43 74.39,375.98 75.4,375.3 76.42,376.95 77.43,376 78.45,374.93 79.46,371.74 80.47,372.65 81.49,371.27 82.5,371.55 83.52,370.14 84.53,369.79 85.54,369.17 86.56,367.7 87.57,366.99 88.59,365.27 89.6,365.28 90.61,363.8 91.63,363.34 92.64,362.23 93.66,362.57 94.67,363.52 95.68,360.63 96.7,359.64 97.71,359.17 98.73,359.58 99.74,358.47 100.75,359.42 101.77,356.8 102.78,356.98 103.8,357.26 104.81,357.32 105.82,354.17 106.84,353.1 107.85,355.34 108.87,352.44 109.88,353.05 110.89,353.25 111.91,352.56 112.92,351.62 113.94,351.85 114.95,355.04 115.96,353.77 116.98,356.13 117.99,354.52 119.01,356.29 120.02,355.07 121.03,355.27 122.05,357.3 123.06,356.25 124.08,358.95 125.09,360.19 126.1,359.02 127.12,361.33 128.13,361.28 129.15,361.1 130.16,360.93 131.17,362.85 132.19,363.68 133.2,361.51 134.22,363.74 135.23,362.14 136.24,362.78 137.26,364.88 138.27,365.06 139.29,365.31 140.3,365.34 141.31,365.92 142.33,366.46 143.34,366.69 144.36,366.08 145.37,367.88 146.38,368.52 147.4,368.01 148.41,369.94 149.43,370.14 150.44,368.37 151.45,370.21 152.47,370.51 153.48,372.6 154.5,371.69 155.51,371.53 156.52,373.69 157.54,372.15 158.55,372.46 159.57,374.64 160.58,373.19 161.59,374.05 162.61,373.72 163.62,375.1 164.64,374.31 165.65,374.55 166.66,377.16 167.68,377.37 168.69,375.74 169.71,375.15 170.72,377.73 171.73,377.4 172.75,377.28 173.76,378.46 174.78,378.62 175.79,379.09 176.8,379.21 177.82,378.79 178.83,380.02 179.85,380.07 180.86,379.1 181.87,381.76 182.89,380.32 183.9,380.07 184.92,381.7 185.93,382.26 186.94,380.68 187.96,382.75 188.97,383.18 189.99,382.65 191,382.08 192.01,384.24 193.03,383.79 194.04,384.01 195.06,382.67 196.07,384.18 197.08,383.09" fill="none" stroke="#9a9a9a" stroke-width="3.8" stroke-linejoin="round"/>
<polyline points="38.9,443.4 39.91,439.5 40.93,434.36 41.94,429.71 42.96,427.42 43.97,424.69 44.98,421.77 46,417.4 47.01,415.58 48.03,410.88 49.04,408.19 50.05,407.82 51.07,405.19 52.08,401.3 53.1,399.73 54.11,397.2 55.12,396.77 56.14,395.64 57.15,393.39 58.17,390.13 59.18,390.2 60.19,388.44 61.21,386.75 62.22,385.33 63.24,384 64.25,381.06 65.26,382.23 66.28,381.49 67.29,377.31 68.31,376.36 69.32,374.9 70.33,375.57 71.35,372.87 72.36,371.91 73.38,373.15 74.39,370.5 75.4,369.24 76.42,368.85 77.43,368.38 78.45,368.2 79.46,367.14 80.47,366.62 81.49,366.26 82.5,363.75 83.52,363.86 84.53,361.36 85.54,362.98 86.56,359.43 87.57,359.29 88.59,357.76 89.6,357.06 90.61,356.27 91.63,356.52 92.64,357.54 93.66,354.45 94.67,355.51 95.68,354.35 96.7,352.44 97.71,352.13 98.73,351.74 99.74,349.33 100.75,349.63 101.77,349.76 102.78,349.32 103.8,346.65 104.81,347.14 105.82,345.45 106.84,346.1 107.85,345.87 108.87,344.08 109.88,342.46 110.89,343.8 111.91,341.53 112.92,341.64 113.94,342.52 114.95,342.98 115.96,346.09 116.98,344.61 117.99,344.36 119.01,347.44 120.02,347.22 121.03,347.71 122.05,347.36 123.06,348.16 124.08,348.46 125.09,347.95 126.1,350.88 127.12,351.16 128.13,351.37 129.15,351.82 130.16,352.43 131.17,349.97 132.19,350.78 133.2,353.65 134.22,352.74 135.23,353.75 136.24,354.16 137.26,354.44 138.27,353.9 139.29,354.48 140.3,355.59 141.31,356.52 142.33,356.46 143.34,357.49 144.36,356.49 145.37,356.34 146.38,357.78 147.4,359.09 148.41,359.14 149.43,358.87 150.44,358.48 151.45,358.26 152.47,359.88 153.48,358.88 154.5,359.78 155.51,360.72 156.52,361.23 157.54,361.16 158.55,360.82 159.57,362.04 160.58,361.48 161.59,362.53 162.61,363.52 163.62,362.9 164.64,362.69 165.65,364.97 166.66,364.14 167.68,364.42 168.69,363.26 169.71,363.37 170.72,365.44 171.73,364.05 172.75,364.66 173.76,366.61 174.78,366.24 175.79,367.59 176.8,365.65 177.82,366.39 178.83,365.93 179.85,366.49 180.86,367.14 181.87,367.17 182.89,367.96 183.9,369.67 184.92,368.37 185.93,370.46 186.94,370.25 187.96,368.47 188.97,371.03 189.99,371.11 191,371.31 192.01,369.04 193.03,371.49 194.04,372.21 195.06,369.81 196.07,372.32 197.08,370.23" fill="none" stroke="#0a0a0a" stroke-width="3.8" stroke-linejoin="round"/>
<line x1="38.9" y1="336.3" x2="38.9" y2="443.9" stroke="#111" stroke-width="1.1"/>
<line x1="38.4" y1="443.4" x2="208.4" y2="443.4" stroke="#111" stroke-width="1.1"/>
<line x1="35.3" y1="337.2" x2="38.9" y2="337.2" stroke="#111" stroke-width="1.0"/>
<text transform="translate(33.8,340.2) scale(1,1.03)" x="0" y="0" font-size="8.5" text-anchor="end" font-weight="bold">30</text>
<line x1="35.3" y1="372.6" x2="38.9" y2="372.6" stroke="#111" stroke-width="1.0"/>
<text transform="translate(33.8,375.6) scale(1,1.03)" x="0" y="0" font-size="8.5" text-anchor="end" font-weight="bold">20</text>
<line x1="35.3" y1="408" x2="38.9" y2="408" stroke="#111" stroke-width="1.0"/>
<text transform="translate(33.8,411) scale(1,1.03)" x="0" y="0" font-size="8.5" text-anchor="end" font-weight="bold">10</text>
<line x1="35.3" y1="443.4" x2="38.9" y2="443.4" stroke="#111" stroke-width="1.0"/>
<text transform="translate(33.8,446.4) scale(1,1.03)" x="0" y="0" font-size="8.5" text-anchor="end" font-weight="bold">0</text>
<line x1="38.9" y1="443.4" x2="38.9" y2="446.4" stroke="#111" stroke-width="1.0"/>
<text transform="translate(38.9,456.8) scale(1,1.03)" x="0" y="0" font-size="8.2" text-anchor="middle" font-weight="bold">0</text>
<line x1="72.7" y1="443.4" x2="72.7" y2="446.4" stroke="#111" stroke-width="1.0"/>
<text transform="translate(72.7,456.8) scale(1,1.03)" x="0" y="0" font-size="8.2" text-anchor="middle" font-weight="bold">100</text>
<line x1="106.5" y1="443.4" x2="106.5" y2="446.4" stroke="#111" stroke-width="1.0"/>
<text transform="translate(106.5,456.8) scale(1,1.03)" x="0" y="0" font-size="8.2" text-anchor="middle" font-weight="bold">200</text>
<line x1="140.3" y1="443.4" x2="140.3" y2="446.4" stroke="#111" stroke-width="1.0"/>
<text transform="translate(140.3,456.8) scale(1,1.03)" x="0" y="0" font-size="8.2" text-anchor="middle" font-weight="bold">300</text>
<line x1="174.1" y1="443.4" x2="174.1" y2="446.4" stroke="#111" stroke-width="1.0"/>
<text transform="translate(174.1,456.8) scale(1,1.03)" x="0" y="0" font-size="8.2" text-anchor="middle" font-weight="bold">400</text>
<line x1="207.9" y1="443.4" x2="207.9" y2="446.4" stroke="#111" stroke-width="1.0"/>
<text transform="translate(207.9,456.8) scale(1,1.03)" x="0" y="0" font-size="8.2" text-anchor="middle" font-weight="bold">500</text>
<text transform="translate(125.7,467) scale(1,1.03)" x="0" y="0" font-size="8.7" text-anchor="middle" font-weight="bold">Time (s)</text>
<text transform="translate(18.2,391.3) scale(1,1.03) rotate(-90)" x="0" y="0" font-size="8.7" text-anchor="middle" font-weight="bold">SPR signal (RU)</text>
<text transform="translate(298.5,14.9) scale(1,1.065)" font-size="16.4" font-weight="bold">C</text>
<text transform="translate(383.4,16.3) scale(1,1.03)" x="0" y="0" font-size="10.0" text-anchor="start">Monomeric Immunoglobulins</text>
<line x1="380.4" y1="24" x2="516" y2="24" stroke="#111" stroke-width="1.15"/>
<text transform="translate(359.9,34.6) scale(1,1.03)" x="0" y="0" font-size="8.7" text-anchor="middle">FLAG</text>
<text transform="translate(395,34.6) scale(1,1.03)" x="0" y="0" font-size="8.7" text-anchor="middle">mIgG1</text>
<text transform="translate(432.3,34.6) scale(1,1.03)" x="0" y="0" font-size="8.7" text-anchor="middle">mIgG2a</text>
<text transform="translate(468.2,34.6) scale(1,1.03)" x="0" y="0" font-size="8.7" text-anchor="middle">mIgG2b</text>
<text transform="translate(503.3,34.6) scale(1,1.03)" x="0" y="0" font-size="8.7" text-anchor="middle">mIgG3</text>
<text transform="translate(333.6,43.8) scale(1,1.03)" x="0" y="0" font-size="9.7" text-anchor="end" font-weight="bold" text-decoration="underline">CHO</text>
<text transform="translate(333.6,60) scale(1,1.03)" x="0" y="0" font-size="9.7" text-anchor="end" font-weight="bold">wt</text>
<text transform="translate(334.2,96.3) scale(1,1.03)" x="0" y="0" font-size="9.7" text-anchor="end" font-weight="bold">mFc&#947;RIII</text>
<text transform="translate(334.2,132.6) scale(1,1.03)" x="0" y="0" font-size="9.7" text-anchor="end" font-weight="bold">mFc&#947;RIV</text>
<text transform="translate(334.2,168.6) scale(1,1.03)" x="0" y="0" font-size="9.7" text-anchor="end" font-weight="bold">hFc&#947;RI</text>
<rect x="343.4" y="37.6" width="33.3" height="34.9" fill="#fff" stroke="#b4b4b4" stroke-width="0.8"/>
<line x1="343.4" y1="37.6" x2="343.4" y2="72.5" stroke="#8c8c8c" stroke-width="1"/>
<polygon points="343.4,72.5 343.4,72 346.09,71.99 346.76,71.91 347.1,71.75 347.44,71.35 347.77,70.5 348.11,68.92 348.45,66.35 348.78,62.7 349.12,57.89 349.45,51.32 349.79,43.74 350.13,40.79 350.46,43.15 350.8,47.38 351.14,51.06 351.47,53.73 351.81,55.97 352.15,58.17 352.48,60.37 352.82,62.42 353.15,64.2 353.49,65.72 353.83,66.99 354.16,68.03 354.5,68.88 354.84,69.58 355.17,70.14 355.51,70.6 355.85,70.96 356.18,71.25 356.85,71.63 357.53,71.84 358.54,71.96 376.7,72 376.7,72.5" fill="#979797" stroke="none"/>
<polyline points="343.4,72 346.09,71.99 346.76,71.91 347.1,71.75 347.44,71.35 347.77,70.5 348.11,68.92 348.45,66.35 348.78,62.7 349.12,57.89 349.45,51.32 349.79,43.74 350.13,40.79 350.46,43.15 350.8,47.38 351.14,51.06 351.47,53.73 351.81,55.97 352.15,58.17 352.48,60.37 352.82,62.42 353.15,64.2 353.49,65.72 353.83,66.99 354.16,68.03 354.5,68.88 354.84,69.58 355.17,70.14 355.51,70.6 355.85,70.96 356.18,71.25 356.85,71.63 357.53,71.84 358.54,71.96 376.7,72" fill="none" stroke="#6a6a6a" stroke-width="0.6" stroke-linejoin="round"/>
<polyline points="343.4,72 345.08,71.98 345.75,71.88 346.09,71.75 346.43,71.49 346.76,71.02 347.1,70.24 347.44,69.03 347.77,67.29 348.11,64.99 348.45,62.2 348.78,59.05 349.12,55.48 349.45,50.52 349.79,44.31 350.13,41.75 350.46,43.85 350.8,47.55 351.14,50.57 351.47,52.57 351.81,54.23 352.15,55.98 352.48,57.94 352.82,59.93 353.15,61.83 353.49,63.6 353.83,65.19 354.16,66.58 354.5,67.77 354.84,68.76 355.17,69.57 355.51,70.21 355.85,70.71 356.18,71.09 356.52,71.37 356.85,71.57 357.53,71.82 358.54,71.96 376.7,72" fill="none" stroke="#8a8a8a" stroke-width="0.85" stroke-linejoin="round"/>
<line x1="343.4" y1="72.5" x2="376.7" y2="72.5" stroke="#3c3c3c" stroke-width="1"/>
<rect x="378.5" y="37.6" width="33.3" height="34.9" fill="#fff" stroke="#b4b4b4" stroke-width="0.8"/>
<line x1="378.5" y1="37.6" x2="378.5" y2="72.5" stroke="#8c8c8c" stroke-width="1"/>
<polygon points="378.5,72.5 378.5,72 382.54,72 383.21,71.95 383.55,71.84 383.88,71.57 384.22,70.96 384.55,69.75 384.89,67.66 385.23,64.5 385.56,60.25 385.9,54.57 386.24,47.05 386.57,41.18 386.91,41.66 387.25,45.42 387.58,49.53 387.92,52.6 388.25,54.97 388.59,57.16 388.93,59.37 389.26,61.52 389.6,63.42 389.94,65.06 390.27,66.44 390.61,67.58 390.95,68.51 391.28,69.28 391.62,69.9 391.95,70.4 392.29,70.81 392.63,71.13 392.96,71.37 393.64,71.7 394.31,71.87 395.32,71.97 411.8,72 411.8,72.5" fill="#979797" stroke="none"/>
<polyline points="378.5,72 382.54,72 383.21,71.95 383.55,71.84 383.88,71.57 384.22,70.96 384.55,69.75 384.89,67.66 385.23,64.5 385.56,60.25 385.9,54.57 386.24,47.05 386.57,41.18 386.91,41.66 387.25,45.42 387.58,49.53 387.92,52.6 388.25,54.97 388.59,57.16 388.93,59.37 389.26,61.52 389.6,63.42 389.94,65.06 390.27,66.44 390.61,67.58 390.95,68.51 391.28,69.28 391.62,69.9 391.95,70.4 392.29,70.81 392.63,71.13 392.96,71.37 393.64,71.7 394.31,71.87 395.32,71.97 411.8,72" fill="none" stroke="#6a6a6a" stroke-width="0.6" stroke-linejoin="round"/>
<line x1="378.5" y1="72.5" x2="411.8" y2="72.5" stroke="#3c3c3c" stroke-width="1"/>
<rect x="413.4" y="37.6" width="33.3" height="34.9" fill="#fff" stroke="#b4b4b4" stroke-width="0.8"/>
<line x1="413.4" y1="37.6" x2="413.4" y2="72.5" stroke="#8c8c8c" stroke-width="1"/>
<polygon points="413.4,72.5 413.4,72 417.44,72 418.11,71.97 418.45,71.91 418.78,71.73 419.12,71.32 419.45,70.44 419.79,68.82 420.13,66.2 420.46,62.49 420.8,57.61 421.14,50.93 421.47,43.43 421.81,40.82 422.15,43.34 422.48,47.59 422.82,51.21 423.15,53.84 423.49,56.08 423.83,58.28 424.16,60.48 424.5,62.51 424.84,64.29 425.17,65.79 425.51,67.04 425.85,68.08 426.18,68.92 426.52,69.61 426.85,70.17 427.19,70.62 427.53,70.98 427.86,71.26 428.54,71.64 429.21,71.84 430.22,71.96 446.7,72 446.7,72.5" fill="#979797" stroke="none"/>
<polyline points="413.4,72 417.44,72 418.11,71.97 418.45,71.91 418.78,71.73 419.12,71.32 419.45,70.44 419.79,68.82 420.13,66.2 420.46,62.49 420.8,57.61 421.14,50.93 421.47,43.43 421.81,40.82 422.15,43.34 422.48,47.59 422.82,51.21 423.15,53.84 423.49,56.08 423.83,58.28 424.16,60.48 424.5,62.51 424.84,64.29 425.17,65.79 425.51,67.04 425.85,68.08 426.18,68.92 426.52,69.61 426.85,70.17 427.19,70.62 427.53,70.98 427.86,71.26 428.54,71.64 429.21,71.84 430.22,71.96 446.7,72" fill="none" stroke="#6a6a6a" stroke-width="0.6" stroke-linejoin="round"/>
<line x1="413.4" y1="72.5" x2="446.7" y2="72.5" stroke="#3c3c3c" stroke-width="1"/>
<rect x="448.9" y="37.6" width="33.3" height="34.9" fill="#fff" stroke="#b4b4b4" stroke-width="0.8"/>
<line x1="448.9" y1="37.6" x2="448.9" y2="72.5" stroke="#8c8c8c" stroke-width="1"/>
<polygon points="448.9,72.5 448.9,72 452.94,72 453.61,71.95 453.95,71.84 454.28,71.57 454.62,70.96 454.95,69.75 455.29,67.66 455.63,64.5 455.96,60.25 456.3,54.57 456.64,47.05 456.97,41.18 457.31,41.66 457.65,45.42 457.98,49.53 458.32,52.6 458.65,54.97 458.99,57.16 459.33,59.37 459.66,61.52 460,63.42 460.34,65.06 460.67,66.44 461.01,67.58 461.35,68.51 461.68,69.28 462.02,69.9 462.35,70.4 462.69,70.81 463.03,71.13 463.36,71.37 464.04,71.7 464.71,71.87 465.72,71.97 482.2,72 482.2,72.5" fill="#979797" stroke="none"/>
<polyline points="448.9,72 452.94,72 453.61,71.95 453.95,71.84 454.28,71.57 454.62,70.96 454.95,69.75 455.29,67.66 455.63,64.5 455.96,60.25 456.3,54.57 456.64,47.05 456.97,41.18 457.31,41.66 457.65,45.42 457.98,49.53 458.32,52.6 458.65,54.97 458.99,57.16 459.33,59.37 459.66,61.52 460,63.42 460.34,65.06 460.67,66.44 461.01,67.58 461.35,68.51 461.68,69.28 462.02,69.9 462.35,70.4 462.69,70.81 463.03,71.13 463.36,71.37 464.04,71.7 464.71,71.87 465.72,71.97 482.2,72" fill="none" stroke="#6a6a6a" stroke-width="0.6" stroke-linejoin="round"/>
<line x1="448.9" y1="72.5" x2="482.2" y2="72.5" stroke="#3c3c3c" stroke-width="1"/>
<rect x="483.5" y="37.6" width="33.3" height="34.9" fill="#fff" stroke="#b4b4b4" stroke-width="0.8"/>
<line x1="483.5" y1="37.6" x2="483.5" y2="72.5" stroke="#8c8c8c" stroke-width="1"/>
<polygon points="483.5,72.5 483.5,72 487.2,72 487.87,71.97 488.21,71.91 488.55,71.74 488.88,71.33 489.22,70.46 489.55,68.84 489.89,66.23 490.23,62.53 490.56,57.67 490.9,51.01 491.24,43.49 491.57,40.81 491.91,43.3 492.25,47.55 492.58,51.18 492.92,53.82 493.25,56.05 493.59,58.25 493.93,60.46 494.26,62.49 494.6,64.27 494.94,65.78 495.27,67.03 495.61,68.07 495.95,68.91 496.28,69.6 496.62,70.16 496.95,70.61 497.29,70.97 497.63,71.26 498.3,71.64 498.97,71.84 499.98,71.96 516.8,72 516.8,72.5" fill="#979797" stroke="none"/>
<polyline points="483.5,72 487.2,72 487.87,71.97 488.21,71.91 488.55,71.74 488.88,71.33 489.22,70.46 489.55,68.84 489.89,66.23 490.23,62.53 490.56,57.67 490.9,51.01 491.24,43.49 491.57,40.81 491.91,43.3 492.25,47.55 492.58,51.18 492.92,53.82 493.25,56.05 493.59,58.25 493.93,60.46 494.26,62.49 494.6,64.27 494.94,65.78 495.27,67.03 495.61,68.07 495.95,68.91 496.28,69.6 496.62,70.16 496.95,70.61 497.29,70.97 497.63,71.26 498.3,71.64 498.97,71.84 499.98,71.96 516.8,72" fill="none" stroke="#6a6a6a" stroke-width="0.6" stroke-linejoin="round"/>
<line x1="483.5" y1="72.5" x2="516.8" y2="72.5" stroke="#3c3c3c" stroke-width="1"/>
<rect x="343.4" y="73" width="33.3" height="34.9" fill="#fff" stroke="#b4b4b4" stroke-width="0.8"/>
<line x1="343.4" y1="73" x2="343.4" y2="107.9" stroke="#8c8c8c" stroke-width="1"/>
<polygon points="343.4,107.9 343.4,107.4 348.11,107.4 348.78,107.37 349.12,107.31 349.45,107.13 349.79,106.71 350.13,105.82 350.46,104.18 350.8,101.53 351.14,97.81 351.47,92.9 351.81,86.18 352.15,78.71 352.48,76.23 352.82,78.82 353.15,83.08 353.49,86.67 353.83,89.29 354.16,91.52 354.5,93.72 354.84,95.92 355.17,97.95 355.51,99.72 355.85,101.22 356.18,102.47 356.52,103.49 356.85,104.33 357.19,105.02 357.53,105.58 357.86,106.03 358.2,106.38 358.54,106.66 359.21,107.04 359.88,107.24 360.89,107.36 376.7,107.4 376.7,107.9" fill="#979797" stroke="none"/>
<polyline points="343.4,107.4 348.11,107.4 348.78,107.37 349.12,107.31 349.45,107.13 349.79,106.71 350.13,105.82 350.46,104.18 350.8,101.53 351.14,97.81 351.47,92.9 351.81,86.18 352.15,78.71 352.48,76.23 352.82,78.82 353.15,83.08 353.49,86.67 353.83,89.29 354.16,91.52 354.5,93.72 354.84,95.92 355.17,97.95 355.51,99.72 355.85,101.22 356.18,102.47 356.52,103.49 356.85,104.33 357.19,105.02 357.53,105.58 357.86,106.03 358.2,106.38 358.54,106.66 359.21,107.04 359.88,107.24 360.89,107.36 376.7,107.4" fill="none" stroke="#6a6a6a" stroke-width="0.6" stroke-linejoin="round"/>
<polyline points="343.4,107.4 355.17,107.4 356.85,107.37 357.86,107.28 358.54,107.12 359.21,106.82 359.55,106.58 359.88,106.26 360.22,105.83 360.55,105.29 360.89,104.59 361.23,103.73 361.56,102.68 361.9,101.42 362.24,99.95 362.57,98.27 362.91,96.37 363.25,94.3 363.58,92.09 363.92,89.78 364.25,87.45 364.59,85.16 364.93,83.01 365.26,81.07 365.6,79.43 365.94,78.15 366.27,77.3 366.61,76.91 366.95,77.19 367.28,78.64 367.62,81.11 367.95,84.33 368.29,87.96 368.63,91.68 368.96,95.19 369.3,98.3 369.64,100.89 369.97,102.93 370.31,104.45 370.65,105.53 370.98,106.26 371.32,106.74 371.65,107.03 371.99,107.2 372.66,107.35 376.7,107.4" fill="none" stroke="#8a8a8a" stroke-width="0.85" stroke-linejoin="round"/>
<line x1="343.4" y1="107.9" x2="376.7" y2="107.9" stroke="#3c3c3c" stroke-width="1"/>
<rect x="378.5" y="73" width="33.3" height="34.9" fill="#fff" stroke="#b4b4b4" stroke-width="0.8"/>
<line x1="378.5" y1="73" x2="378.5" y2="107.9" stroke="#8c8c8c" stroke-width="1"/>
<polygon points="378.5,107.9 378.5,107.4 382.2,107.4 382.87,107.35 383.21,107.24 383.55,106.98 383.88,106.37 384.22,105.17 384.55,103.08 384.89,99.93 385.23,95.7 385.56,90.04 385.9,82.52 386.24,76.6 386.57,77.03 386.91,80.78 387.25,84.89 387.58,87.98 387.92,90.34 388.25,92.54 388.59,94.75 388.93,96.9 389.26,98.81 389.6,100.45 389.94,101.83 390.27,102.97 390.61,103.91 390.95,104.67 391.28,105.29 391.62,105.8 391.95,106.2 392.29,106.52 392.63,106.77 393.3,107.1 393.97,107.27 394.98,107.37 411.8,107.4 411.8,107.9" fill="#979797" stroke="none"/>
<polyline points="378.5,107.4 382.2,107.4 382.87,107.35 383.21,107.24 383.55,106.98 383.88,106.37 384.22,105.17 384.55,103.08 384.89,99.93 385.23,95.7 385.56,90.04 385.9,82.52 386.24,76.6 386.57,77.03 386.91,80.78 387.25,84.89 387.58,87.98 387.92,90.34 388.25,92.54 388.59,94.75 388.93,96.9 389.26,98.81 389.6,100.45 389.94,101.83 390.27,102.97 390.61,103.91 390.95,104.67 391.28,105.29 391.62,105.8 391.95,106.2 392.29,106.52 392.63,106.77 393.3,107.1 393.97,107.27 394.98,107.37 411.8,107.4" fill="none" stroke="#6a6a6a" stroke-width="0.6" stroke-linejoin="round"/>
<line x1="378.5" y1="107.9" x2="411.8" y2="107.9" stroke="#3c3c3c" stroke-width="1"/>
<rect x="413.4" y="73" width="33.3" height="34.9" fill="#fff" stroke="#b4b4b4" stroke-width="0.8"/>
<line x1="413.4" y1="73" x2="413.4" y2="107.9" stroke="#8c8c8c" stroke-width="1"/>
<polygon points="413.4,107.9 413.4,107.4 417.1,107.4 417.77,107.37 418.11,107.31 418.45,107.14 418.78,106.73 419.12,105.86 419.45,104.24 419.79,101.63 420.13,97.93 420.46,93.07 420.8,86.41 421.14,78.89 421.47,76.21 421.81,78.7 422.15,82.95 422.48,86.58 422.82,89.22 423.15,91.45 423.49,93.65 423.83,95.86 424.16,97.89 424.5,99.67 424.84,101.18 425.17,102.43 425.51,103.47 425.85,104.31 426.18,105 426.52,105.56 426.85,106.01 427.19,106.37 427.53,106.66 428.2,107.04 428.87,107.24 429.88,107.36 446.7,107.4 446.7,107.9" fill="#979797" stroke="none"/>
<polyline points="413.4,107.4 417.1,107.4 417.77,107.37 418.11,107.31 418.45,107.14 418.78,106.73 419.12,105.86 419.45,104.24 419.79,101.63 420.13,97.93 420.46,93.07 420.8,86.41 421.14,78.89 421.47,76.21 421.81,78.7 422.15,82.95 422.48,86.58 422.82,89.22 423.15,91.45 423.49,93.65 423.83,95.86 424.16,97.89 424.5,99.67 424.84,101.18 425.17,102.43 425.51,103.47 425.85,104.31 426.18,105 426.52,105.56 426.85,106.01 427.19,106.37 427.53,106.66 428.2,107.04 428.87,107.24 429.88,107.36 446.7,107.4" fill="none" stroke="#6a6a6a" stroke-width="0.6" stroke-linejoin="round"/>
<line x1="413.4" y1="107.9" x2="446.7" y2="107.9" stroke="#3c3c3c" stroke-width="1"/>
<rect x="448.9" y="73" width="33.3" height="34.9" fill="#fff" stroke="#b4b4b4" stroke-width="0.8"/>
<line x1="448.9" y1="73" x2="448.9" y2="107.9" stroke="#8c8c8c" stroke-width="1"/>
<polygon points="448.9,107.9 448.9,107.4 452.94,107.4 453.61,107.35 453.95,107.24 454.28,106.97 454.62,106.36 454.95,105.15 455.29,103.06 455.63,99.9 455.96,95.65 456.3,89.97 456.64,82.45 456.97,76.58 457.31,77.06 457.65,80.82 457.98,84.93 458.32,88 458.65,90.37 458.99,92.56 459.33,94.77 459.66,96.92 460,98.82 460.34,100.46 460.67,101.84 461.01,102.98 461.35,103.91 461.68,104.68 462.02,105.3 462.35,105.8 462.69,106.21 463.03,106.53 463.36,106.77 464.04,107.1 464.71,107.27 465.72,107.37 482.2,107.4 482.2,107.9" fill="#979797" stroke="none"/>
<polyline points="448.9,107.4 452.94,107.4 453.61,107.35 453.95,107.24 454.28,106.97 454.62,106.36 454.95,105.15 455.29,103.06 455.63,99.9 455.96,95.65 456.3,89.97 456.64,82.45 456.97,76.58 457.31,77.06 457.65,80.82 457.98,84.93 458.32,88 458.65,90.37 458.99,92.56 459.33,94.77 459.66,96.92 460,98.82 460.34,100.46 460.67,101.84 461.01,102.98 461.35,103.91 461.68,104.68 462.02,105.3 462.35,105.8 462.69,106.21 463.03,106.53 463.36,106.77 464.04,107.1 464.71,107.27 465.72,107.37 482.2,107.4" fill="none" stroke="#6a6a6a" stroke-width="0.6" stroke-linejoin="round"/>
<line x1="448.9" y1="107.9" x2="482.2" y2="107.9" stroke="#3c3c3c" stroke-width="1"/>
<rect x="483.5" y="73" width="33.3" height="34.9" fill="#fff" stroke="#b4b4b4" stroke-width="0.8"/>
<line x1="483.5" y1="73" x2="483.5" y2="107.9" stroke="#8c8c8c" stroke-width="1"/>
<polygon points="483.5,107.9 483.5,107.4 487.2,107.4 487.87,107.35 488.21,107.26 488.55,107.01 488.88,106.45 489.22,105.32 489.55,103.34 489.89,100.29 490.23,96.17 490.56,90.69 490.9,83.3 491.24,76.92 491.57,76.79 491.91,80.35 492.25,84.53 492.58,87.72 492.92,90.12 493.25,92.32 493.59,94.53 493.93,96.69 494.26,98.63 494.6,100.3 494.94,101.7 495.27,102.87 495.61,103.82 495.95,104.6 496.28,105.24 496.62,105.75 496.95,106.17 497.29,106.5 497.63,106.75 498.3,107.09 498.97,107.27 499.98,107.37 516.8,107.4 516.8,107.9" fill="#979797" stroke="none"/>
<polyline points="483.5,107.4 487.2,107.4 487.87,107.35 488.21,107.26 488.55,107.01 488.88,106.45 489.22,105.32 489.55,103.34 489.89,100.29 490.23,96.17 490.56,90.69 490.9,83.3 491.24,76.92 491.57,76.79 491.91,80.35 492.25,84.53 492.58,87.72 492.92,90.12 493.25,92.32 493.59,94.53 493.93,96.69 494.26,98.63 494.6,100.3 494.94,101.7 495.27,102.87 495.61,103.82 495.95,104.6 496.28,105.24 496.62,105.75 496.95,106.17 497.29,106.5 497.63,106.75 498.3,107.09 498.97,107.27 499.98,107.37 516.8,107.4" fill="none" stroke="#6a6a6a" stroke-width="0.6" stroke-linejoin="round"/>
<line x1="483.5" y1="107.9" x2="516.8" y2="107.9" stroke="#3c3c3c" stroke-width="1"/>
<rect x="343.4" y="109.4" width="33.3" height="34.9" fill="#fff" stroke="#b4b4b4" stroke-width="0.8"/>
<line x1="343.4" y1="109.4" x2="343.4" y2="144.3" stroke="#8c8c8c" stroke-width="1"/>
<polygon points="343.4,144.3 343.4,143.8 346.43,143.79 347.1,143.71 347.44,143.55 347.77,143.14 348.11,142.29 348.45,140.7 348.78,138.12 349.12,134.46 349.45,129.64 349.79,123.04 350.13,115.48 350.46,112.59 350.8,114.99 351.14,119.23 351.47,122.89 351.81,125.55 352.15,127.79 352.48,129.99 352.82,132.19 353.15,134.24 353.49,136.02 353.83,137.54 354.16,138.8 354.5,139.84 354.84,140.69 355.17,141.38 355.51,141.95 355.85,142.4 356.18,142.76 356.52,143.05 357.19,143.43 357.86,143.64 358.87,143.76 376.7,143.8 376.7,144.3" fill="#979797" stroke="none"/>
<polyline points="343.4,143.8 346.43,143.79 347.1,143.71 347.44,143.55 347.77,143.14 348.11,142.29 348.45,140.7 348.78,138.12 349.12,134.46 349.45,129.64 349.79,123.04 350.13,115.48 350.46,112.59 350.8,114.99 351.14,119.23 351.47,122.89 351.81,125.55 352.15,127.79 352.48,129.99 352.82,132.19 353.15,134.24 353.49,136.02 353.83,137.54 354.16,138.8 354.5,139.84 354.84,140.69 355.17,141.38 355.51,141.95 355.85,142.4 356.18,142.76 356.52,143.05 357.19,143.43 357.86,143.64 358.87,143.76 376.7,143.8" fill="none" stroke="#6a6a6a" stroke-width="0.6" stroke-linejoin="round"/>
<polyline points="343.4,143.8 350.46,143.79 351.81,143.74 352.48,143.64 353.15,143.42 353.49,143.22 353.83,142.94 354.16,142.54 354.5,142.01 354.84,141.3 355.17,140.38 355.51,139.23 355.85,137.8 356.18,136.1 356.52,134.12 356.85,131.88 357.19,129.42 357.53,126.81 357.86,124.15 358.2,121.53 358.54,119.09 358.87,116.94 359.21,115.21 359.55,114 359.88,113.37 360.22,113.45 360.55,114.66 360.89,116.94 361.23,120.04 361.56,123.62 361.9,127.34 362.24,130.92 362.57,134.12 362.91,136.82 363.25,138.96 363.58,140.58 363.92,141.75 364.25,142.54 364.59,143.06 364.93,143.38 365.26,143.57 365.94,143.74 376.7,143.8" fill="none" stroke="#8a8a8a" stroke-width="0.85" stroke-linejoin="round"/>
<line x1="343.4" y1="144.3" x2="376.7" y2="144.3" stroke="#3c3c3c" stroke-width="1"/>
<rect x="378.5" y="109.4" width="33.3" height="34.9" fill="#fff" stroke="#b4b4b4" stroke-width="0.8"/>
<line x1="378.5" y1="109.4" x2="378.5" y2="144.3" stroke="#8c8c8c" stroke-width="1"/>
<polygon points="378.5,144.3 378.5,143.8 382.2,143.8 382.87,143.75 383.21,143.64 383.55,143.38 383.88,142.77 384.22,141.57 384.55,139.48 384.89,136.33 385.23,132.1 385.56,126.44 385.9,118.92 386.24,113 386.57,113.43 386.91,117.18 387.25,121.29 387.58,124.38 387.92,126.74 388.25,128.94 388.59,131.15 388.93,133.3 389.26,135.21 389.6,136.85 389.94,138.23 390.27,139.37 390.61,140.31 390.95,141.07 391.28,141.69 391.62,142.2 391.95,142.6 392.29,142.92 392.63,143.17 393.3,143.5 393.97,143.67 394.98,143.77 411.8,143.8 411.8,144.3" fill="#979797" stroke="none"/>
<polyline points="378.5,143.8 382.2,143.8 382.87,143.75 383.21,143.64 383.55,143.38 383.88,142.77 384.22,141.57 384.55,139.48 384.89,136.33 385.23,132.1 385.56,126.44 385.9,118.92 386.24,113 386.57,113.43 386.91,117.18 387.25,121.29 387.58,124.38 387.92,126.74 388.25,128.94 388.59,131.15 388.93,133.3 389.26,135.21 389.6,136.85 389.94,138.23 390.27,139.37 390.61,140.31 390.95,141.07 391.28,141.69 391.62,142.2 391.95,142.6 392.29,142.92 392.63,143.17 393.3,143.5 393.97,143.67 394.98,143.77 411.8,143.8" fill="none" stroke="#6a6a6a" stroke-width="0.6" stroke-linejoin="round"/>
<polyline points="378.5,143.8 381.53,143.8 382.2,143.77 382.54,143.71 382.87,143.58 383.21,143.29 383.55,142.72 383.88,141.7 384.22,140.04 384.55,137.62 384.89,134.47 385.23,130.68 385.56,125.85 385.9,119.29 386.24,113.95 386.57,114.37 386.91,117.98 387.25,121.94 387.58,124.9 387.92,127.17 388.25,129.28 388.59,131.42 388.93,133.49 389.26,135.35 389.6,136.95 389.94,138.29 390.27,139.41 390.61,140.33 390.95,141.08 391.28,141.7 391.62,142.2 391.95,142.61 392.29,142.92 392.63,143.17 393.3,143.5 393.97,143.67 394.98,143.77 411.8,143.8" fill="none" stroke="#8a8a8a" stroke-width="0.85" stroke-linejoin="round"/>
<line x1="378.5" y1="144.3" x2="411.8" y2="144.3" stroke="#3c3c3c" stroke-width="1"/>
<rect x="413.4" y="109.4" width="33.3" height="34.9" fill="#fff" stroke="#b4b4b4" stroke-width="0.8"/>
<line x1="413.4" y1="109.4" x2="413.4" y2="144.3" stroke="#8c8c8c" stroke-width="1"/>
<polygon points="413.4,144.3 413.4,143.8 417.1,143.8 417.77,143.77 418.11,143.71 418.45,143.54 418.78,143.13 419.12,142.26 419.45,140.64 419.79,138.03 420.13,134.33 420.46,129.47 420.8,122.81 421.14,115.29 421.47,112.61 421.81,115.1 422.15,119.35 422.48,122.98 422.82,125.62 423.15,127.85 423.49,130.05 423.83,132.26 424.16,134.29 424.5,136.07 424.84,137.58 425.17,138.83 425.51,139.87 425.85,140.71 426.18,141.4 426.52,141.96 426.85,142.41 427.19,142.77 427.53,143.06 428.2,143.44 428.87,143.64 429.88,143.76 446.7,143.8 446.7,144.3" fill="#979797" stroke="none"/>
<polyline points="413.4,143.8 417.1,143.8 417.77,143.77 418.11,143.71 418.45,143.54 418.78,143.13 419.12,142.26 419.45,140.64 419.79,138.03 420.13,134.33 420.46,129.47 420.8,122.81 421.14,115.29 421.47,112.61 421.81,115.1 422.15,119.35 422.48,122.98 422.82,125.62 423.15,127.85 423.49,130.05 423.83,132.26 424.16,134.29 424.5,136.07 424.84,137.58 425.17,138.83 425.51,139.87 425.85,140.71 426.18,141.4 426.52,141.96 426.85,142.41 427.19,142.77 427.53,143.06 428.2,143.44 428.87,143.64 429.88,143.76 446.7,143.8" fill="none" stroke="#6a6a6a" stroke-width="0.6" stroke-linejoin="round"/>
<polyline points="413.4,143.8 424.84,143.8 426.18,143.76 426.85,143.7 427.53,143.54 427.86,143.39 428.2,143.18 428.54,142.89 428.87,142.48 429.21,141.92 429.55,141.18 429.88,140.24 430.22,139.04 430.55,137.58 430.89,135.84 431.23,133.82 431.56,131.55 431.9,129.06 432.24,126.44 432.57,123.78 432.91,121.18 433.25,118.77 433.58,116.67 433.92,115.01 434.25,113.87 434.59,113.33 434.93,113.54 435.26,114.92 435.6,117.33 435.94,120.52 436.27,124.14 436.61,127.86 436.95,131.39 437.28,134.53 437.62,137.15 437.95,139.22 438.29,140.77 438.63,141.88 438.96,142.63 439.3,143.12 439.64,143.42 439.97,143.59 440.65,143.75 446.7,143.8" fill="none" stroke="#8a8a8a" stroke-width="0.85" stroke-linejoin="round"/>
<line x1="413.4" y1="144.3" x2="446.7" y2="144.3" stroke="#3c3c3c" stroke-width="1"/>
<rect x="448.9" y="109.4" width="33.3" height="34.9" fill="#fff" stroke="#b4b4b4" stroke-width="0.8"/>
<line x1="448.9" y1="109.4" x2="448.9" y2="144.3" stroke="#8c8c8c" stroke-width="1"/>
<polygon points="448.9,144.3 448.9,143.8 452.26,143.79 452.94,143.71 453.27,143.54 453.61,143.14 453.95,142.28 454.28,140.68 454.62,138.09 454.95,134.42 455.29,129.58 455.63,122.96 455.96,115.42 456.3,112.6 456.64,115.03 456.97,119.27 457.31,122.92 457.65,125.57 457.98,127.81 458.32,130.01 458.65,132.22 458.99,134.25 459.33,136.04 459.66,137.55 460,138.81 460.34,139.85 460.67,140.7 461.01,141.39 461.35,141.95 461.68,142.41 462.02,142.77 462.35,143.05 463.03,143.43 463.7,143.64 464.71,143.76 482.2,143.8 482.2,144.3" fill="#979797" stroke="none"/>
<polyline points="448.9,143.8 452.26,143.79 452.94,143.71 453.27,143.54 453.61,143.14 453.95,142.28 454.28,140.68 454.62,138.09 454.95,134.42 455.29,129.58 455.63,122.96 455.96,115.42 456.3,112.6 456.64,115.03 456.97,119.27 457.31,122.92 457.65,125.57 457.98,127.81 458.32,130.01 458.65,132.22 458.99,134.25 459.33,136.04 459.66,137.55 460,138.81 460.34,139.85 460.67,140.7 461.01,141.39 461.35,141.95 461.68,142.41 462.02,142.77 462.35,143.05 463.03,143.43 463.7,143.64 464.71,143.76 482.2,143.8" fill="none" stroke="#6a6a6a" stroke-width="0.6" stroke-linejoin="round"/>
<polyline points="448.9,143.8 460.34,143.8 461.68,143.76 462.35,143.7 463.03,143.54 463.36,143.39 463.7,143.18 464.04,142.89 464.37,142.48 464.71,141.92 465.05,141.18 465.38,140.24 465.72,139.04 466.05,137.58 466.39,135.84 466.73,133.82 467.06,131.55 467.4,129.06 467.74,126.44 468.07,123.78 468.41,121.18 468.75,118.77 469.08,116.67 469.42,115.01 469.75,113.87 470.09,113.33 470.43,113.54 470.76,114.92 471.1,117.33 471.44,120.52 471.77,124.14 472.11,127.86 472.45,131.39 472.78,134.53 473.12,137.15 473.45,139.22 473.79,140.77 474.13,141.88 474.46,142.63 474.8,143.12 475.14,143.42 475.47,143.59 476.15,143.75 482.2,143.8" fill="none" stroke="#8a8a8a" stroke-width="0.85" stroke-linejoin="round"/>
<line x1="448.9" y1="144.3" x2="482.2" y2="144.3" stroke="#3c3c3c" stroke-width="1"/>
<rect x="483.5" y="109.4" width="33.3" height="34.9" fill="#fff" stroke="#b4b4b4" stroke-width="0.8"/>
<line x1="483.5" y1="109.4" x2="483.5" y2="144.3" stroke="#8c8c8c" stroke-width="1"/>
<polygon points="483.5,144.3 483.5,143.8 487.2,143.8 487.87,143.75 488.21,143.66 488.55,143.41 488.88,142.85 489.22,141.72 489.55,139.74 489.89,136.69 490.23,132.57 490.56,127.09 490.9,119.7 491.24,113.32 491.57,113.19 491.91,116.75 492.25,120.93 492.58,124.12 492.92,126.52 493.25,128.72 493.59,130.93 493.93,133.09 494.26,135.03 494.6,136.7 494.94,138.1 495.27,139.27 495.61,140.22 495.95,141 496.28,141.64 496.62,142.15 496.95,142.57 497.29,142.9 497.63,143.15 498.3,143.49 498.97,143.67 499.98,143.77 516.8,143.8 516.8,144.3" fill="#979797" stroke="none"/>
<polyline points="483.5,143.8 487.2,143.8 487.87,143.75 488.21,143.66 488.55,143.41 488.88,142.85 489.22,141.72 489.55,139.74 489.89,136.69 490.23,132.57 490.56,127.09 490.9,119.7 491.24,113.32 491.57,113.19 491.91,116.75 492.25,120.93 492.58,124.12 492.92,126.52 493.25,128.72 493.59,130.93 493.93,133.09 494.26,135.03 494.6,136.7 494.94,138.1 495.27,139.27 495.61,140.22 495.95,141 496.28,141.64 496.62,142.15 496.95,142.57 497.29,142.9 497.63,143.15 498.3,143.49 498.97,143.67 499.98,143.77 516.8,143.8" fill="none" stroke="#6a6a6a" stroke-width="0.6" stroke-linejoin="round"/>
<line x1="483.5" y1="144.3" x2="516.8" y2="144.3" stroke="#3c3c3c" stroke-width="1"/>
<rect x="343.4" y="145.4" width="33.3" height="34.9" fill="#fff" stroke="#b4b4b4" stroke-width="0.8"/>
<line x1="343.4" y1="145.4" x2="343.4" y2="180.3" stroke="#8c8c8c" stroke-width="1"/>
<polygon points="343.4,180.3 343.4,179.8 345.42,179.79 346.09,179.71 346.43,179.55 346.76,179.16 347.1,178.33 347.44,176.76 347.77,174.22 348.11,170.59 348.45,165.8 348.78,159.27 349.12,151.67 349.45,148.58 349.79,150.87 350.13,155.1 350.46,158.8 350.8,161.48 351.14,163.72 351.47,165.92 351.81,168.13 352.15,170.18 352.48,171.97 352.82,173.49 353.15,174.76 353.49,175.81 353.83,176.67 354.16,177.36 354.5,177.93 354.84,178.39 355.17,178.76 355.51,179.04 356.18,179.43 356.85,179.64 357.86,179.76 376.7,179.8 376.7,180.3" fill="#979797" stroke="none"/>
<polyline points="343.4,179.8 345.42,179.79 346.09,179.71 346.43,179.55 346.76,179.16 347.1,178.33 347.44,176.76 347.77,174.22 348.11,170.59 348.45,165.8 348.78,159.27 349.12,151.67 349.45,148.58 349.79,150.87 350.13,155.1 350.46,158.8 350.8,161.48 351.14,163.72 351.47,165.92 351.81,168.13 352.15,170.18 352.48,171.97 352.82,173.49 353.15,174.76 353.49,175.81 353.83,176.67 354.16,177.36 354.5,177.93 354.84,178.39 355.17,178.76 355.51,179.04 356.18,179.43 356.85,179.64 357.86,179.76 376.7,179.8" fill="none" stroke="#6a6a6a" stroke-width="0.6" stroke-linejoin="round"/>
<polyline points="343.4,179.8 351.14,179.8 352.15,179.77 352.48,179.72 352.82,179.61 353.15,179.38 353.49,178.95 353.83,178.17 354.16,176.9 354.5,174.94 354.84,172.16 355.17,168.53 355.51,164.22 355.85,159.57 356.18,155.16 356.52,151.65 356.85,149.63 357.19,149.32 357.53,149.6 357.86,150.18 358.2,151.05 358.54,152.17 358.87,153.52 359.21,155.06 359.55,156.74 359.88,158.53 360.22,160.38 360.55,162.25 360.89,164.1 361.23,165.89 361.56,167.61 361.9,169.22 362.24,170.72 362.57,172.08 362.91,173.3 363.25,174.39 363.58,175.34 363.92,176.16 364.25,176.86 364.59,177.45 364.93,177.94 365.26,178.34 365.6,178.67 366.27,179.14 366.95,179.43 367.62,179.6 368.63,179.73 371.32,179.8 376.7,179.8" fill="none" stroke="#8a8a8a" stroke-width="0.85" stroke-linejoin="round"/>
<line x1="343.4" y1="180.3" x2="376.7" y2="180.3" stroke="#858585" stroke-width="1"/>
<rect x="378.5" y="145.4" width="33.3" height="34.9" fill="#fff" stroke="#b4b4b4" stroke-width="0.8"/>
<line x1="378.5" y1="145.4" x2="378.5" y2="180.3" stroke="#8c8c8c" stroke-width="1"/>
<polygon points="378.5,180.3 378.5,179.8 382.2,179.8 382.87,179.75 383.21,179.64 383.55,179.38 383.88,178.77 384.22,177.57 384.55,175.48 384.89,172.33 385.23,168.1 385.56,162.44 385.9,154.92 386.24,149 386.57,149.43 386.91,153.18 387.25,157.29 387.58,160.38 387.92,162.74 388.25,164.94 388.59,167.15 388.93,169.3 389.26,171.21 389.6,172.85 389.94,174.23 390.27,175.37 390.61,176.31 390.95,177.07 391.28,177.69 391.62,178.2 391.95,178.6 392.29,178.92 392.63,179.17 393.3,179.5 393.97,179.67 394.98,179.77 411.8,179.8 411.8,180.3" fill="#979797" stroke="none"/>
<polyline points="378.5,179.8 382.2,179.8 382.87,179.75 383.21,179.64 383.55,179.38 383.88,178.77 384.22,177.57 384.55,175.48 384.89,172.33 385.23,168.1 385.56,162.44 385.9,154.92 386.24,149 386.57,149.43 386.91,153.18 387.25,157.29 387.58,160.38 387.92,162.74 388.25,164.94 388.59,167.15 388.93,169.3 389.26,171.21 389.6,172.85 389.94,174.23 390.27,175.37 390.61,176.31 390.95,177.07 391.28,177.69 391.62,178.2 391.95,178.6 392.29,178.92 392.63,179.17 393.3,179.5 393.97,179.67 394.98,179.77 411.8,179.8" fill="none" stroke="#6a6a6a" stroke-width="0.6" stroke-linejoin="round"/>
<line x1="378.5" y1="180.3" x2="411.8" y2="180.3" stroke="#858585" stroke-width="1"/>
<rect x="413.4" y="145.4" width="33.3" height="34.9" fill="#fff" stroke="#b4b4b4" stroke-width="0.8"/>
<line x1="413.4" y1="145.4" x2="413.4" y2="180.3" stroke="#8c8c8c" stroke-width="1"/>
<polygon points="413.4,180.3 413.4,179.8 417.1,179.8 417.77,179.77 418.11,179.71 418.45,179.54 418.78,179.13 419.12,178.26 419.45,176.64 419.79,174.03 420.13,170.33 420.46,165.47 420.8,158.81 421.14,151.29 421.47,148.61 421.81,151.1 422.15,155.35 422.48,158.98 422.82,161.62 423.15,163.85 423.49,166.05 423.83,168.26 424.16,170.29 424.5,172.07 424.84,173.58 425.17,174.83 425.51,175.87 425.85,176.71 426.18,177.4 426.52,177.96 426.85,178.41 427.19,178.77 427.53,179.06 428.2,179.44 428.87,179.64 429.88,179.76 446.7,179.8 446.7,180.3" fill="#979797" stroke="none"/>
<polyline points="413.4,179.8 417.1,179.8 417.77,179.77 418.11,179.71 418.45,179.54 418.78,179.13 419.12,178.26 419.45,176.64 419.79,174.03 420.13,170.33 420.46,165.47 420.8,158.81 421.14,151.29 421.47,148.61 421.81,151.1 422.15,155.35 422.48,158.98 422.82,161.62 423.15,163.85 423.49,166.05 423.83,168.26 424.16,170.29 424.5,172.07 424.84,173.58 425.17,174.83 425.51,175.87 425.85,176.71 426.18,177.4 426.52,177.96 426.85,178.41 427.19,178.77 427.53,179.06 428.2,179.44 428.87,179.64 429.88,179.76 446.7,179.8" fill="none" stroke="#6a6a6a" stroke-width="0.6" stroke-linejoin="round"/>
<polyline points="413.4,179.8 429.88,179.8 431.23,179.77 431.9,179.66 432.24,179.54 432.57,179.32 432.91,178.97 433.25,178.39 433.58,177.53 433.92,176.27 434.25,174.54 434.59,172.27 434.93,169.45 435.26,166.16 435.6,162.53 435.94,158.81 436.27,155.3 436.61,152.36 436.95,150.29 437.28,149.34 437.62,149.61 437.95,151.08 438.29,153.57 438.63,156.8 438.96,160.44 439.3,164.15 439.64,167.66 439.97,170.76 440.31,173.33 440.65,175.36 440.98,176.88 441.32,177.95 441.65,178.68 441.99,179.15 442.33,179.43 442.66,179.6 443.34,179.75 446.7,179.8" fill="none" stroke="#8a8a8a" stroke-width="0.85" stroke-linejoin="round"/>
<line x1="413.4" y1="180.3" x2="446.7" y2="180.3" stroke="#858585" stroke-width="1"/>
<rect x="448.9" y="145.4" width="33.3" height="34.9" fill="#fff" stroke="#b4b4b4" stroke-width="0.8"/>
<line x1="448.9" y1="145.4" x2="448.9" y2="180.3" stroke="#8c8c8c" stroke-width="1"/>
<polygon points="448.9,180.3 448.9,179.8 452.26,179.79 452.94,179.71 453.27,179.54 453.61,179.14 453.95,178.28 454.28,176.68 454.62,174.09 454.95,170.42 455.29,165.58 455.63,158.96 455.96,151.42 456.3,148.6 456.64,151.03 456.97,155.27 457.31,158.92 457.65,161.57 457.98,163.81 458.32,166.01 458.65,168.22 458.99,170.25 459.33,172.04 459.66,173.55 460,174.81 460.34,175.85 460.67,176.7 461.01,177.39 461.35,177.95 461.68,178.41 462.02,178.77 462.35,179.05 463.03,179.43 463.7,179.64 464.71,179.76 482.2,179.8 482.2,180.3" fill="#979797" stroke="none"/>
<polyline points="448.9,179.8 452.26,179.79 452.94,179.71 453.27,179.54 453.61,179.14 453.95,178.28 454.28,176.68 454.62,174.09 454.95,170.42 455.29,165.58 455.63,158.96 455.96,151.42 456.3,148.6 456.64,151.03 456.97,155.27 457.31,158.92 457.65,161.57 457.98,163.81 458.32,166.01 458.65,168.22 458.99,170.25 459.33,172.04 459.66,173.55 460,174.81 460.34,175.85 460.67,176.7 461.01,177.39 461.35,177.95 461.68,178.41 462.02,178.77 462.35,179.05 463.03,179.43 463.7,179.64 464.71,179.76 482.2,179.8" fill="none" stroke="#6a6a6a" stroke-width="0.6" stroke-linejoin="round"/>
<polyline points="448.9,179.8 457.31,179.8 458.65,179.76 459.33,179.66 459.66,179.56 460,179.4 460.34,179.15 460.67,178.78 461.01,178.24 461.35,177.49 461.68,176.46 462.02,175.1 462.35,173.38 462.69,171.29 463.03,168.81 463.36,166.02 463.7,163 464.04,159.9 464.37,156.87 464.71,154.13 465.05,151.86 465.38,150.23 465.72,149.39 466.05,149.4 466.39,150.26 466.73,151.9 467.06,154.18 467.4,156.93 467.74,159.96 468.07,163.07 468.41,166.08 468.75,168.87 469.08,171.33 469.42,173.42 469.75,175.13 470.09,176.48 470.43,177.5 470.76,178.26 471.1,178.79 471.44,179.16 471.77,179.4 472.45,179.66 473.45,179.78 482.2,179.8" fill="none" stroke="#8a8a8a" stroke-width="0.85" stroke-linejoin="round"/>
<line x1="448.9" y1="180.3" x2="482.2" y2="180.3" stroke="#858585" stroke-width="1"/>
<rect x="483.5" y="145.4" width="33.3" height="34.9" fill="#fff" stroke="#b4b4b4" stroke-width="0.8"/>
<line x1="483.5" y1="145.4" x2="483.5" y2="180.3" stroke="#8c8c8c" stroke-width="1"/>
<polygon points="483.5,180.3 483.5,179.8 487.2,179.8 487.87,179.75 488.21,179.66 488.55,179.41 488.88,178.85 489.22,177.72 489.55,175.74 489.89,172.69 490.23,168.57 490.56,163.09 490.9,155.7 491.24,149.32 491.57,149.19 491.91,152.75 492.25,156.93 492.58,160.12 492.92,162.52 493.25,164.72 493.59,166.93 493.93,169.09 494.26,171.03 494.6,172.7 494.94,174.1 495.27,175.27 495.61,176.22 495.95,177 496.28,177.64 496.62,178.15 496.95,178.57 497.29,178.9 497.63,179.15 498.3,179.49 498.97,179.67 499.98,179.77 516.8,179.8 516.8,180.3" fill="#979797" stroke="none"/>
<polyline points="483.5,179.8 487.2,179.8 487.87,179.75 488.21,179.66 488.55,179.41 488.88,178.85 489.22,177.72 489.55,175.74 489.89,172.69 490.23,168.57 490.56,163.09 490.9,155.7 491.24,149.32 491.57,149.19 491.91,152.75 492.25,156.93 492.58,160.12 492.92,162.52 493.25,164.72 493.59,166.93 493.93,169.09 494.26,171.03 494.6,172.7 494.94,174.1 495.27,175.27 495.61,176.22 495.95,177 496.28,177.64 496.62,178.15 496.95,178.57 497.29,178.9 497.63,179.15 498.3,179.49 498.97,179.67 499.98,179.77 516.8,179.8" fill="none" stroke="#6a6a6a" stroke-width="0.6" stroke-linejoin="round"/>
<polyline points="483.5,179.8 492.58,179.8 493.59,179.74 493.93,179.67 494.26,179.5 494.6,179.18 494.94,178.59 495.27,177.57 495.61,175.95 495.95,173.56 496.28,170.32 496.62,166.29 496.95,161.74 497.29,157.14 497.63,153.13 497.96,150.35 498.3,149.29 498.64,149.84 498.97,151.56 499.31,154.24 499.65,157.59 499.98,161.28 500.32,164.97 500.65,168.4 500.99,171.39 501.33,173.84 501.66,175.75 502,177.15 502.34,178.14 502.67,178.8 503.01,179.22 503.35,179.48 503.68,179.63 504.35,179.76 516.8,179.8" fill="none" stroke="#8a8a8a" stroke-width="0.85" stroke-linejoin="round"/>
<line x1="483.5" y1="180.3" x2="516.8" y2="180.3" stroke="#858585" stroke-width="1"/>
<text transform="translate(298.5,215.4) scale(1,1.065)" font-size="16.4" font-weight="bold">D</text>
<text transform="translate(405,214.2) scale(1,1.03)" x="0" y="0" font-size="10.0" text-anchor="start">Immune complexes</text>
<line x1="380.4" y1="220" x2="516" y2="220" stroke="#111" stroke-width="1.15"/>
<text transform="translate(359.9,231.5) scale(1,1.03)" x="0" y="0" font-size="8.7" text-anchor="middle">FLAG</text>
<text transform="translate(395,231.5) scale(1,1.03)" x="0" y="0" font-size="8.7" text-anchor="middle">mIgG1</text>
<text transform="translate(432.3,231.5) scale(1,1.03)" x="0" y="0" font-size="8.7" text-anchor="middle">mIgG2a</text>
<text transform="translate(468.2,231.5) scale(1,1.03)" x="0" y="0" font-size="8.7" text-anchor="middle">mIgG2b</text>
<text transform="translate(503.3,231.5) scale(1,1.03)" x="0" y="0" font-size="8.7" text-anchor="middle">mIgG3</text>
<text transform="translate(336.2,240.8) scale(1,1.03)" x="0" y="0" font-size="9.7" text-anchor="end" font-weight="bold" text-decoration="underline">CHO</text>
<text transform="translate(336.2,257) scale(1,1.03)" x="0" y="0" font-size="9.7" text-anchor="end" font-weight="bold">wt</text>
<text transform="translate(335.8,294) scale(1,1.03)" x="0" y="0" font-size="9.7" text-anchor="end" font-weight="bold">mFc&#947;RIII</text>
<text transform="translate(335.8,329.3) scale(1,1.03)" x="0" y="0" font-size="9.7" text-anchor="end" font-weight="bold">mFc&#947;RIV</text>
<text transform="translate(335.8,365.2) scale(1,1.03)" x="0" y="0" font-size="9.7" text-anchor="end" font-weight="bold">hFc&#947;RI</text>
<rect x="344.2" y="234.4" width="33" height="34.8" fill="#fff" stroke="#cfcfcf" stroke-width="0.8"/>
<polygon points="344.2,269.2 344.2,268.7 345.87,268.68 346.53,268.57 346.87,268.42 347.2,268.14 347.53,267.62 347.87,266.73 348.2,265.34 348.53,263.26 348.87,260.41 349.2,256.78 349.53,252.51 349.87,247.93 350.2,243.55 350.53,239.93 350.87,237.55 351.2,236.72 351.53,237.92 351.87,240.86 352.2,244.56 352.53,248.02 352.87,250.52 353.2,251.91 353.53,252.51 353.87,252.89 354.2,253.63 354.53,254.84 354.87,256.54 355.2,258.61 355.53,260.81 355.87,262.9 356.2,264.69 356.53,266.1 356.87,267.12 357.2,267.8 357.53,268.22 357.87,268.46 358.2,268.59 358.87,268.68 377.2,268.7 377.2,269.2" fill="#aeaeae" stroke="none"/>
<polyline points="344.2,268.7 345.87,268.68 346.53,268.57 346.87,268.42 347.2,268.14 347.53,267.62 347.87,266.73 348.2,265.34 348.53,263.26 348.87,260.41 349.2,256.78 349.53,252.51 349.87,247.93 350.2,243.55 350.53,239.93 350.87,237.55 351.2,236.72 351.53,237.92 351.87,240.86 352.2,244.56 352.53,248.02 352.87,250.52 353.2,251.91 353.53,252.51 353.87,252.89 354.2,253.63 354.53,254.84 354.87,256.54 355.2,258.61 355.53,260.81 355.87,262.9 356.2,264.69 356.53,266.1 356.87,267.12 357.2,267.8 357.53,268.22 357.87,268.46 358.2,268.59 358.87,268.68 377.2,268.7" fill="none" stroke="#1a1a1a" stroke-width="1.0" stroke-linejoin="round"/>
<line x1="344.2" y1="269.2" x2="377.2" y2="269.2" stroke="#7a7a7a" stroke-width="1"/>
<rect x="378.8" y="234.4" width="33" height="34.8" fill="#fff" stroke="#cfcfcf" stroke-width="0.8"/>
<polygon points="378.8,269.2 378.8,268.7 381.13,268.69 381.8,268.64 382.13,268.57 382.47,268.42 382.8,268.13 383.13,267.61 383.47,266.72 383.8,265.32 384.13,263.25 384.47,260.41 384.8,256.79 385.13,252.55 385.47,248.03 385.8,243.73 386.13,240.2 386.47,237.94 386.8,237.26 387.13,238.64 387.47,241.71 387.8,245.42 388.13,248.65 388.47,250.58 388.8,250.95 389.13,250.09 389.47,248.78 389.8,247.9 390.13,248.1 390.47,249.39 390.8,251.61 391.13,254.47 391.47,257.57 391.8,260.53 392.13,263.07 392.47,265.06 392.8,266.49 393.13,267.44 393.47,268.03 393.8,268.36 394.13,268.54 394.8,268.67 411.8,268.7 411.8,269.2" fill="#aeaeae" stroke="none"/>
<polyline points="378.8,268.7 381.13,268.69 381.8,268.64 382.13,268.57 382.47,268.42 382.8,268.13 383.13,267.61 383.47,266.72 383.8,265.32 384.13,263.25 384.47,260.41 384.8,256.79 385.13,252.55 385.47,248.03 385.8,243.73 386.13,240.2 386.47,237.94 386.8,237.26 387.13,238.64 387.47,241.71 387.8,245.42 388.13,248.65 388.47,250.58 388.8,250.95 389.13,250.09 389.47,248.78 389.8,247.9 390.13,248.1 390.47,249.39 390.8,251.61 391.13,254.47 391.47,257.57 391.8,260.53 392.13,263.07 392.47,265.06 392.8,266.49 393.13,267.44 393.47,268.03 393.8,268.36 394.13,268.54 394.8,268.67 411.8,268.7" fill="none" stroke="#1a1a1a" stroke-width="1.0" stroke-linejoin="round"/>
<line x1="378.8" y1="269.2" x2="411.8" y2="269.2" stroke="#7a7a7a" stroke-width="1"/>
<rect x="414" y="234.4" width="33" height="34.8" fill="#fff" stroke="#cfcfcf" stroke-width="0.8"/>
<polygon points="414,269.2 414,268.7 415.67,268.69 416.33,268.64 416.67,268.57 417,268.42 417.33,268.14 417.67,267.62 418,266.74 418.33,265.35 418.67,263.3 419,260.47 419.33,256.87 419.67,252.64 420,248.12 420.33,243.81 420.67,240.26 421,237.98 421.33,237.27 421.67,238.62 422,241.69 422.33,245.45 422.67,248.77 423,250.83 423.33,251.34 423.67,250.62 424,249.41 424.33,248.57 424.67,248.76 425,249.99 425.33,252.13 425.67,254.88 426,257.88 426.33,260.75 426.67,263.21 427,265.15 427.33,266.54 427.67,267.47 428,268.04 428.33,268.37 428.67,268.54 429.33,268.67 447,268.7 447,269.2" fill="#aeaeae" stroke="none"/>
<polyline points="414,268.7 415.67,268.69 416.33,268.64 416.67,268.57 417,268.42 417.33,268.14 417.67,267.62 418,266.74 418.33,265.35 418.67,263.3 419,260.47 419.33,256.87 419.67,252.64 420,248.12 420.33,243.81 420.67,240.26 421,237.98 421.33,237.27 421.67,238.62 422,241.69 422.33,245.45 422.67,248.77 423,250.83 423.33,251.34 423.67,250.62 424,249.41 424.33,248.57 424.67,248.76 425,249.99 425.33,252.13 425.67,254.88 426,257.88 426.33,260.75 426.67,263.21 427,265.15 427.33,266.54 427.67,267.47 428,268.04 428.33,268.37 428.67,268.54 429.33,268.67 447,268.7" fill="none" stroke="#1a1a1a" stroke-width="1.0" stroke-linejoin="round"/>
<line x1="414" y1="269.2" x2="447" y2="269.2" stroke="#7a7a7a" stroke-width="1"/>
<rect x="449.2" y="234.4" width="33" height="34.8" fill="#fff" stroke="#cfcfcf" stroke-width="0.8"/>
<polygon points="449.2,269.2 449.2,268.7 450.2,268.68 450.87,268.57 451.2,268.43 451.53,268.15 451.87,267.64 452.2,266.78 452.53,265.4 452.87,263.37 453.2,260.57 453.53,256.99 453.87,252.77 454.2,248.26 454.53,243.94 454.87,240.39 455.2,238.12 455.53,237.48 455.87,238.98 456.2,242.37 456.53,246.63 456.87,250.6 457.2,253.33 457.53,254.31 457.87,253.62 458.2,251.83 458.53,249.8 458.87,248.42 459.2,248.31 459.53,249.42 459.87,251.55 460.2,254.36 460.53,257.45 460.87,260.42 461.2,262.98 461.53,264.99 461.87,266.45 462.2,267.41 462.53,268.01 462.87,268.35 463.2,268.54 463.87,268.67 482.2,268.7 482.2,269.2" fill="#aeaeae" stroke="none"/>
<polyline points="449.2,268.7 450.2,268.68 450.87,268.57 451.2,268.43 451.53,268.15 451.87,267.64 452.2,266.78 452.53,265.4 452.87,263.37 453.2,260.57 453.53,256.99 453.87,252.77 454.2,248.26 454.53,243.94 454.87,240.39 455.2,238.12 455.53,237.48 455.87,238.98 456.2,242.37 456.53,246.63 456.87,250.6 457.2,253.33 457.53,254.31 457.87,253.62 458.2,251.83 458.53,249.8 458.87,248.42 459.2,248.31 459.53,249.42 459.87,251.55 460.2,254.36 460.53,257.45 460.87,260.42 461.2,262.98 461.53,264.99 461.87,266.45 462.2,267.41 462.53,268.01 462.87,268.35 463.2,268.54 463.87,268.67 482.2,268.7" fill="none" stroke="#1a1a1a" stroke-width="1.0" stroke-linejoin="round"/>
<line x1="449.2" y1="269.2" x2="482.2" y2="269.2" stroke="#7a7a7a" stroke-width="1"/>
<rect x="483.8" y="234.4" width="33" height="34.8" fill="#fff" stroke="#cfcfcf" stroke-width="0.8"/>
<polygon points="483.8,269.2 483.8,268.7 485.82,268.69 486.49,268.64 486.83,268.56 487.17,268.4 487.5,268.09 487.84,267.53 488.18,266.58 488.51,265.09 488.85,262.89 489.19,259.9 489.52,256.13 489.86,251.78 490.2,247.22 490.53,242.99 490.87,239.7 491.21,237.86 491.54,237.85 491.88,240.21 492.22,244.45 492.56,249.53 492.89,254.34 493.23,257.99 493.57,259.94 493.9,260.09 494.24,258.68 494.58,256.24 494.91,253.5 495.25,251.24 495.59,250.13 495.92,250.41 496.26,251.81 496.6,254.09 496.93,256.85 497.27,259.7 497.61,262.29 497.94,264.42 498.28,266.03 498.62,267.13 498.95,267.84 499.29,268.26 499.63,268.49 499.96,268.6 500.64,268.68 516.8,268.7 516.8,269.2" fill="#aeaeae" stroke="none"/>
<polyline points="483.8,268.7 485.82,268.69 486.49,268.64 486.83,268.56 487.17,268.4 487.5,268.09 487.84,267.53 488.18,266.58 488.51,265.09 488.85,262.89 489.19,259.9 489.52,256.13 489.86,251.78 490.2,247.22 490.53,242.99 490.87,239.7 491.21,237.86 491.54,237.85 491.88,240.21 492.22,244.45 492.56,249.53 492.89,254.34 493.23,257.99 493.57,259.94 493.9,260.09 494.24,258.68 494.58,256.24 494.91,253.5 495.25,251.24 495.59,250.13 495.92,250.41 496.26,251.81 496.6,254.09 496.93,256.85 497.27,259.7 497.61,262.29 497.94,264.42 498.28,266.03 498.62,267.13 498.95,267.84 499.29,268.26 499.63,268.49 499.96,268.6 500.64,268.68 516.8,268.7" fill="none" stroke="#1a1a1a" stroke-width="1.0" stroke-linejoin="round"/>
<line x1="483.8" y1="269.2" x2="516.8" y2="269.2" stroke="#7a7a7a" stroke-width="1"/>
<rect x="344.2" y="271" width="33" height="34.8" fill="#fff" stroke="#cfcfcf" stroke-width="0.8"/>
<polygon points="344.2,305.8 344.2,305.3 347.2,305.3 347.87,305.27 348.2,305.2 348.53,305.05 348.87,304.72 349.2,304.05 349.53,302.82 349.87,300.76 350.2,297.66 350.53,293.46 350.87,288.42 351.2,283.15 351.53,278.56 351.87,275.6 352.2,274.95 352.53,276.77 352.87,280.62 353.2,285.65 353.53,290.91 353.87,295.6 354.2,299.29 354.53,301.87 354.87,303.5 355.2,304.43 355.53,304.91 355.87,305.14 356.53,305.28 377.2,305.3 377.2,305.8" fill="#aeaeae" stroke="none"/>
<polyline points="344.2,304.62 350.2,304.72 352.87,304.69 354.53,304.61 356.2,304.73 356.87,304.72 357.53,304.6 358.2,304.31 358.53,304.08 358.87,303.8 359.2,303.43 359.53,302.93 359.87,302.26 360.2,301.41 360.53,300.37 360.87,299.12 361.2,297.64 361.53,295.87 361.87,293.56 362.2,290.86 362.53,287.99 362.87,285.16 363.2,282.59 363.53,280.35 363.87,278.12 364.2,276.33 364.53,275.51 364.87,276.11 365.2,278.03 365.53,280.8 365.87,283.95 366.2,287.35 366.53,291.54 366.87,295.83 367.2,299.41 367.53,301.72 367.87,303.12 368.2,303.95 368.53,304.49 368.87,304.94 369.2,305.2 369.53,305.3 377.2,305.3" fill="none" stroke="#1a1a1a" stroke-width="1.0" stroke-linejoin="round"/>
<line x1="344.2" y1="305.8" x2="377.2" y2="305.8" stroke="#7a7a7a" stroke-width="1"/>
<rect x="378.8" y="271" width="33" height="34.8" fill="#fff" stroke="#cfcfcf" stroke-width="0.8"/>
<polygon points="378.8,305.8 378.8,305.3 381.8,305.3 382.47,305.27 382.8,305.2 383.13,305.05 383.47,304.72 383.8,304.05 384.13,302.82 384.47,300.76 384.8,297.66 385.13,293.46 385.47,288.42 385.8,283.15 386.13,278.56 386.47,275.6 386.8,274.95 387.13,276.75 387.47,280.56 387.8,285.51 388.13,290.54 388.47,294.77 388.8,297.62 389.13,298.88 389.47,298.72 389.8,297.6 390.13,296.21 390.47,295.23 390.8,295.17 391.13,296.15 391.47,297.9 391.8,299.95 392.13,301.85 392.47,303.31 392.8,304.28 393.13,304.83 393.47,305.11 393.8,305.23 394.8,305.3 411.8,305.3 411.8,305.8" fill="#aeaeae" stroke="none"/>
<polyline points="378.8,304.62 382.47,304.81 383.8,304.81 384.8,304.73 385.8,304.53 386.47,304.29 387.13,303.95 387.8,303.47 388.47,302.85 389.13,302.06 389.8,301.07 390.47,299.84 390.8,299.14 391.13,298.37 391.47,297.53 391.8,296.57 392.13,295.51 392.47,294.36 392.8,293.17 393.13,291.95 393.47,290.74 393.8,289.56 394.13,288.37 394.47,287.15 394.8,285.93 395.13,284.7 395.47,283.46 395.8,282.23 396.13,280.98 396.47,279.65 396.8,278.31 397.13,277.04 397.47,275.95 397.8,275.15 398.13,274.78 398.47,274.79 398.8,275.16 399.13,275.95 399.47,276.84 399.8,277.48 400.13,277.57 400.47,277.21 400.8,276.68 401.13,276.28 401.47,276.25 402.13,276.77 402.47,276.92 402.8,276.73 403.47,275.75 403.8,275.53 404.13,275.74 404.47,276.16 404.8,276.89 405.13,277.99 405.47,279.68 405.8,282 406.13,284.43 406.47,286.46 406.8,287.81 407.13,288.78 407.47,289.49 407.8,290.03 408.13,290.44 408.47,290.67 409.13,290.92 409.47,291.09 409.8,292.42 410.13,292.79 410.47,284.16 410.8,273.87 411.13,273.87 411.47,274.1 411.8,274.88" fill="none" stroke="#1a1a1a" stroke-width="1.0" stroke-linejoin="round"/>
<line x1="378.8" y1="305.8" x2="411.8" y2="305.8" stroke="#7a7a7a" stroke-width="1"/>
<rect x="414" y="271" width="33" height="34.8" fill="#fff" stroke="#cfcfcf" stroke-width="0.8"/>
<polygon points="414,305.8 414,305.3 416,305.29 416.67,305.25 417,305.18 417.33,305.04 417.67,304.78 418,304.3 418.33,303.48 418.67,302.19 419,300.29 419.33,297.67 419.67,294.33 420,290.42 420.33,286.25 420.67,282.29 421,279.06 421.33,277.05 421.67,276.61 422,278.27 422.33,281.82 422.67,286.4 423,291.03 423.33,294.85 423.67,297.33 424,298.27 424.33,297.8 424.67,296.3 425,294.31 425.33,292.46 425.67,291.29 426,291.14 426.33,291.91 426.67,293.41 427,295.39 427.33,297.56 427.67,299.62 428,301.39 428.33,302.78 428.67,303.77 429,304.43 429.33,304.84 429.67,305.07 430,305.19 430.67,305.28 447,305.3 447,305.8" fill="#aeaeae" stroke="none"/>
<polyline points="414,304.62 422,304.74 425,304.72 427.33,304.61 428.33,304.46 429.33,304.16 430.33,303.7 431.33,303.14 432,302.66 432.33,302.34 432.67,301.95 433,301.47 433.33,300.89 433.67,300.2 434,299.4 434.33,298.51 434.67,297.56 435,296.56 435.33,295.53 435.67,294.46 436,293.34 436.33,292.16 436.67,290.93 437,289.67 437.33,288.38 437.67,287.08 438,285.73 438.33,284.28 438.67,282.77 439,281.28 439.33,279.84 439.67,278.53 440,277.26 440.33,275.99 440.67,275.06 441,274.82 441.33,275.65 441.67,277.4 442,279.52 442.33,281.42 442.67,282.89 443,284.24 443.33,285.48 443.67,286.6 444,288.31 444.33,289.41 444.67,282.78 445,274.19 445.33,273.87 446,273.87 446.33,274.1 446.67,274.64 447,274.88" fill="none" stroke="#1a1a1a" stroke-width="1.0" stroke-linejoin="round"/>
<line x1="414" y1="305.8" x2="447" y2="305.8" stroke="#7a7a7a" stroke-width="1"/>
<rect x="449.2" y="271" width="33" height="34.8" fill="#fff" stroke="#cfcfcf" stroke-width="0.8"/>
<polygon points="449.2,305.8 449.2,305.3 451.2,305.29 451.87,305.25 452.2,305.18 452.53,305.04 452.87,304.78 453.2,304.3 453.53,303.48 453.87,302.19 454.2,300.29 454.53,297.67 454.87,294.33 455.2,290.42 455.53,286.25 455.87,282.29 456.2,279.06 456.53,277.05 456.87,276.61 457.2,278.27 457.53,281.82 457.87,286.4 458.2,291.03 458.53,294.85 458.87,297.33 459.2,298.27 459.53,297.8 459.87,296.3 460.2,294.31 460.53,292.46 460.87,291.29 461.2,291.14 461.53,291.91 461.87,293.41 462.2,295.39 462.53,297.56 462.87,299.62 463.2,301.39 463.53,302.78 463.87,303.77 464.2,304.43 464.53,304.84 464.87,305.07 465.2,305.19 465.87,305.28 482.2,305.3 482.2,305.8" fill="#aeaeae" stroke="none"/>
<polyline points="449.2,304.62 457.2,304.74 460.2,304.72 462.53,304.61 463.53,304.46 464.53,304.16 465.53,303.7 466.53,303.14 467.2,302.66 467.53,302.34 467.87,301.95 468.2,301.47 468.53,300.89 468.87,300.2 469.2,299.4 469.53,298.51 469.87,297.56 470.2,296.56 470.53,295.53 470.87,294.47 471.2,293.36 471.53,292.19 471.87,290.98 472.2,289.73 472.53,288.43 472.87,287.09 473.2,285.67 473.53,284.09 473.87,282.44 474.2,280.8 474.53,279.26 474.87,277.74 475.2,276.07 475.53,274.73 475.87,274.18 476.2,274.97 476.53,276.94 476.87,279.19 477.2,280.83 477.53,280.93 477.87,279.99 478.2,279.56 478.53,280.44 478.87,281.89 479.2,283.52 479.53,284.93 479.87,285.98 480.2,286.89 480.53,287.68 480.87,288.37 481.2,288.93 481.87,289.7 482.2,290.09" fill="none" stroke="#1a1a1a" stroke-width="1.0" stroke-linejoin="round"/>
<line x1="449.2" y1="305.8" x2="482.2" y2="305.8" stroke="#7a7a7a" stroke-width="1"/>
<rect x="483.8" y="271" width="33" height="34.8" fill="#fff" stroke="#cfcfcf" stroke-width="0.8"/>
<polygon points="483.8,305.8 483.8,305.3 485.82,305.29 486.49,305.24 486.83,305.17 487.17,305.02 487.5,304.74 487.84,304.22 488.18,303.34 488.51,301.96 488.85,299.93 489.19,297.17 489.52,293.69 489.86,289.66 490.2,285.44 490.53,281.53 490.87,278.45 491.21,276.67 491.54,276.48 491.88,278.32 492.22,281.65 492.56,285.45 492.89,288.74 493.23,290.83 493.57,291.59 493.9,291.35 494.24,290.78 494.58,290.53 494.91,291.03 495.25,292.21 495.59,293.98 495.92,296.11 496.26,298.29 496.6,300.29 496.93,301.95 497.27,303.2 497.61,304.06 497.94,304.62 498.28,304.95 498.62,305.13 499.29,305.27 516.8,305.3 516.8,305.8" fill="#aeaeae" stroke="none"/>
<polyline points="483.8,304.62 485.82,304.61 486.49,304.51 487.17,304.26 487.84,304.23 488.18,304.12 488.51,303.72 488.85,302.86 489.19,301.32 489.52,298.57 489.86,294.9 490.2,290.82 490.53,286.55 490.87,280.69 491.21,275.85 491.54,275.14 491.88,277.68 492.22,281.65 492.56,285.45 492.89,287.76 493.23,289.07 493.57,289.85 493.9,290.19 494.24,289.79 494.58,289.78 494.91,291.12 495.25,293.3 495.59,295.77 495.92,298.04 496.26,299.86 496.6,301.54 496.93,302.99 497.27,304.12 497.61,304.84 497.94,305.18 498.28,305.29 516.8,305.3" fill="none" stroke="#1a1a1a" stroke-width="1.0" stroke-linejoin="round"/>
<line x1="483.8" y1="305.8" x2="516.8" y2="305.8" stroke="#7a7a7a" stroke-width="1"/>
<rect x="344.2" y="307.7" width="33" height="34.8" fill="#fff" stroke="#cfcfcf" stroke-width="0.8"/>
<polygon points="344.2,342.5 344.2,342 347.2,342 347.87,341.97 348.2,341.9 348.53,341.75 348.87,341.42 349.2,340.75 349.53,339.52 349.87,337.46 350.2,334.36 350.53,330.16 350.87,325.12 351.2,319.85 351.53,315.26 351.87,312.3 352.2,311.65 352.53,313.47 352.87,317.32 353.2,322.35 353.53,327.61 353.87,332.3 354.2,335.99 354.53,338.57 354.87,340.2 355.2,341.13 355.53,341.61 355.87,341.84 356.53,341.98 377.2,342 377.2,342.5" fill="#aeaeae" stroke="none"/>
<polyline points="344.2,342 352.2,342 353.2,341.96 353.53,341.91 353.87,341.8 354.2,341.56 354.53,341.11 354.87,340.32 355.2,338.99 355.53,336.97 355.87,334.1 356.2,330.35 356.53,325.9 356.87,321.11 357.2,316.58 357.53,312.97 357.87,310.9 358.2,310.8 358.53,313.1 358.87,317.37 359.2,322.69 359.53,328.07 359.87,332.75 360.2,336.35 360.53,338.83 360.87,340.36 361.2,341.22 361.53,341.66 361.87,341.86 362.53,341.98 377.2,342" fill="none" stroke="#1a1a1a" stroke-width="1.0" stroke-linejoin="round"/>
<line x1="344.2" y1="342.5" x2="377.2" y2="342.5" stroke="#7a7a7a" stroke-width="1"/>
<rect x="378.8" y="307.7" width="33" height="34.8" fill="#fff" stroke="#cfcfcf" stroke-width="0.8"/>
<polygon points="378.8,342.5 378.8,342 382.13,342 382.8,341.96 383.13,341.9 383.47,341.75 383.8,341.41 384.13,340.72 384.47,339.45 384.8,337.34 385.13,334.15 385.47,329.85 385.8,324.69 386.13,319.31 386.47,314.63 386.8,311.62 387.13,310.97 387.47,312.42 387.8,315.54 388.13,319.8 388.47,324.52 388.8,329.09 389.13,333.05 389.47,336.18 389.8,338.45 390.13,339.97 390.47,340.91 390.8,341.45 391.13,341.74 391.47,341.88 392.13,341.98 411.8,342 411.8,342.5" fill="#aeaeae" stroke="none"/>
<polyline points="378.8,342 382.13,342 382.8,341.96 383.13,341.9 383.47,341.75 383.8,341.41 384.13,340.72 384.47,339.45 384.8,337.34 385.13,334.15 385.47,329.85 385.8,324.69 386.13,319.31 386.47,314.63 386.8,311.62 387.13,310.95 387.47,312.1 387.8,314.63 388.13,318.17 388.47,322.27 388.8,326.47 389.13,330.38 389.47,333.73 389.8,336.4 390.13,338.4 390.47,339.8 390.8,340.72 391.13,341.29 391.47,341.63 391.8,341.81 392.47,341.96 411.8,342" fill="none" stroke="#1a1a1a" stroke-width="1.0" stroke-linejoin="round"/>
<line x1="378.8" y1="342.5" x2="411.8" y2="342.5" stroke="#7a7a7a" stroke-width="1"/>
<rect x="414" y="307.7" width="33" height="34.8" fill="#fff" stroke="#cfcfcf" stroke-width="0.8"/>
<polygon points="414,342.5 414,342 417.67,342 418.33,341.97 418.67,341.91 419,341.76 419.33,341.45 419.67,340.81 420,339.63 420.33,337.67 420.67,334.71 421,330.73 421.33,325.95 421.67,320.98 422,316.67 422.33,313.92 422.67,313.35 423,315.11 423.33,318.77 423.67,323.54 424,328.51 424.33,332.92 424.67,336.38 425,338.8 425.33,340.32 425.67,341.19 426,341.64 426.33,341.85 427,341.98 447,342 447,342.5" fill="#aeaeae" stroke="none"/>
<polyline points="414,341.66 418.33,341.52 420,341.4 421,341.26 422,341.02 423.33,340.56 424.33,340.14 425,339.92 425.67,339.58 426,339.3 426.33,338.92 426.67,338.41 427,337.8 427.33,337.08 427.67,336.26 428,335.33 428.33,334.31 428.67,333.19 429,331.97 429.33,330.63 429.67,329.18 430,327.63 430.33,326 430.67,324.31 431,322.57 431.33,320.71 431.67,318.45 432,316.07 432.33,313.99 432.67,312.55 433,311.74 433.33,311.51 433.67,311.83 434,312.68 434.33,314.19 434.67,316.48 435,319.43 435.33,322.67 435.67,325.81 436,328.66 436.33,331.51 436.67,334.16 437,336.39 437.33,337.97 437.67,339.01 438,339.69 438.67,340.63 439,340.98 439.33,341.24 440,341.56 441,341.77 442.33,341.9 446.67,341.99 447,342" fill="none" stroke="#1a1a1a" stroke-width="1.0" stroke-linejoin="round"/>
<line x1="414" y1="342.5" x2="447" y2="342.5" stroke="#7a7a7a" stroke-width="1"/>
<rect x="449.2" y="307.7" width="33" height="34.8" fill="#fff" stroke="#cfcfcf" stroke-width="0.8"/>
<polygon points="449.2,342.5 449.2,342 452.53,342 453.2,341.97 453.53,341.91 453.87,341.77 454.2,341.45 454.53,340.82 454.87,339.64 455.2,337.69 455.53,334.75 455.87,330.77 456.2,326 456.53,321.03 456.87,316.71 457.2,313.94 457.53,313.34 457.87,315.08 458.2,318.73 458.53,323.49 458.87,328.46 459.2,332.88 459.53,336.35 459.87,338.78 460.2,340.31 460.53,341.19 460.87,341.64 461.2,341.85 461.87,341.98 482.2,342 482.2,342.5" fill="#aeaeae" stroke="none"/>
<polyline points="449.2,341.66 453.53,341.52 455.2,341.4 456.2,341.26 457.2,341.02 458.53,340.56 459.53,340.14 460.2,339.92 460.87,339.58 461.2,339.3 461.53,338.92 461.87,338.41 462.2,337.8 462.53,337.08 462.87,336.26 463.2,335.33 463.53,334.31 463.87,333.19 464.2,331.97 464.53,330.63 464.87,329.18 465.2,327.63 465.53,326 465.87,324.31 466.2,322.57 466.53,320.71 466.87,318.45 467.2,316.07 467.53,313.99 467.87,312.55 468.2,311.74 468.53,311.51 468.87,311.83 469.2,312.68 469.53,314.19 469.87,316.48 470.2,319.43 470.53,322.67 470.87,325.81 471.2,328.66 471.53,331.51 471.87,334.16 472.2,336.39 472.53,337.97 472.87,339.01 473.2,339.69 473.87,340.63 474.2,340.98 474.53,341.24 475.2,341.56 476.2,341.77 477.53,341.9 481.87,341.99 482.2,342" fill="none" stroke="#1a1a1a" stroke-width="1.0" stroke-linejoin="round"/>
<line x1="449.2" y1="342.5" x2="482.2" y2="342.5" stroke="#7a7a7a" stroke-width="1"/>
<rect x="483.8" y="307.7" width="33" height="34.8" fill="#fff" stroke="#cfcfcf" stroke-width="0.8"/>
<polygon points="483.8,342.5 483.8,342 486.83,342 487.5,341.97 488.18,341.81 488.51,341.59 488.85,341.17 489.19,340.4 489.52,339.13 489.86,337.18 490.2,334.41 490.53,330.8 490.87,326.52 491.21,321.94 491.54,317.65 491.88,314.3 492.22,312.48 492.56,312.52 492.89,314.41 493.23,317.81 493.57,322.13 493.9,326.7 494.24,330.96 494.58,334.54 494.91,337.28 495.25,339.2 495.59,340.44 495.92,341.19 496.26,341.6 496.6,341.82 497.27,341.97 516.8,342 516.8,342.5" fill="#aeaeae" stroke="none"/>
<polyline points="483.8,342 486.83,342 487.5,341.97 487.84,341.92 488.18,341.81 488.51,341.58 488.85,341.15 489.19,340.37 489.52,339.07 489.86,337.07 490.2,334.24 490.53,330.55 490.87,326.17 491.21,321.49 491.54,317.1 491.88,313.67 492.22,311.81 492.56,311.79 492.89,313.33 493.23,316.16 493.57,319.88 493.9,324.01 494.24,328.1 494.58,331.8 494.91,334.89 495.25,337.29 495.59,339.04 495.92,340.23 496.26,341 496.6,341.46 496.93,341.72 497.27,341.87 497.94,341.97 516.8,342" fill="none" stroke="#1a1a1a" stroke-width="1.0" stroke-linejoin="round"/>
<line x1="483.8" y1="342.5" x2="516.8" y2="342.5" stroke="#7a7a7a" stroke-width="1"/>
<rect x="344.2" y="344.2" width="33" height="34.8" fill="#fff" stroke="#cfcfcf" stroke-width="0.8"/>
<polygon points="344.2,379 344.2,378.5 348.2,378.5 348.87,378.46 349.2,378.36 349.53,378.1 349.87,377.49 350.2,376.2 350.53,373.83 350.87,370.03 351.2,364.79 351.53,358.69 351.87,352.93 352.2,349.03 352.53,348.16 352.87,350 353.2,353.86 353.53,358.91 353.87,364.16 354.2,368.85 354.53,372.52 354.87,375.09 355.2,376.71 355.53,377.64 355.87,378.12 356.2,378.34 356.87,378.48 377.2,378.5 377.2,379" fill="#aeaeae" stroke="none"/>
<polyline points="344.2,378.16 346.53,378.18 349.53,378.27 351.2,378.24 352.53,378.12 353.87,377.88 354.2,377.8 354.87,377.74 355.2,377.53 355.53,377 355.87,376.04 356.2,374.42 356.53,371.52 356.87,367.75 357.2,363.79 357.53,360.2 357.87,356.55 358.2,352.92 358.53,349.64 358.87,347.14 359.2,346.26 359.53,346.74 359.87,347.98 360.2,349.52 360.53,350.94 360.87,351.84 361.2,352.37 361.87,353.12 362.2,353.75 362.53,354.78 362.87,356.11 363.2,357.64 363.53,359.28 363.87,360.95 364.2,362.6 364.53,364.39 364.87,366.23 365.2,368.06 365.53,369.77 365.87,371.29 366.2,372.55 366.53,373.63 366.87,374.56 367.2,375.36 367.53,376.06 367.87,376.66 368.2,377.16 368.53,377.53 368.87,377.79 369.2,377.96 369.87,378.15 371.2,378.34 372.87,378.44 376.53,378.48 377.2,378.5" fill="none" stroke="#1a1a1a" stroke-width="1.0" stroke-linejoin="round"/>
<line x1="344.2" y1="379" x2="377.2" y2="379" stroke="#7a7a7a" stroke-width="1"/>
<rect x="378.8" y="344.2" width="33" height="34.8" fill="#fff" stroke="#cfcfcf" stroke-width="0.8"/>
<polygon points="378.8,379 378.8,378.5 383.13,378.5 383.8,378.45 384.13,378.35 384.47,378.08 384.8,377.42 385.13,376.05 385.47,373.53 385.8,369.5 386.13,363.94 386.47,357.46 386.8,351.32 387.13,347.1 387.47,345.99 387.8,348.22 388.13,352.88 388.47,358.43 388.8,363.34 389.13,366.7 389.47,368.37 389.8,368.76 390.47,368.24 390.8,368.35 391.13,369.34 391.47,371.1 391.8,373.15 392.13,375.05 392.47,376.51 392.8,377.48 393.13,378.03 393.47,378.31 393.8,378.43 394.8,378.5 411.8,378.5 411.8,379" fill="#aeaeae" stroke="none"/>
<polyline points="378.8,378.16 379.8,378.2 381.13,378.38 381.8,378.42 382.47,378.37 383.13,378.17 384.13,377.57 384.47,377.2 384.8,376.46 385.13,375.1 385.47,372.86 385.8,368.25 386.13,362.31 386.47,357.12 386.8,351.81 387.13,347.48 387.47,346.67 387.8,350.69 388.13,356.59 388.47,360.87 388.8,363.65 389.13,365.69 389.47,367 389.8,367.49 390.13,367.58 390.47,367.84 390.8,368.86 391.13,370.93 391.47,373.28 391.8,375.05 392.13,376.4 392.47,377.41 392.8,378.04 393.13,378.36 393.47,378.48 411.8,378.5" fill="none" stroke="#1a1a1a" stroke-width="1.0" stroke-linejoin="round"/>
<line x1="378.8" y1="379" x2="411.8" y2="379" stroke="#7a7a7a" stroke-width="1"/>
<rect x="414" y="344.2" width="33" height="34.8" fill="#fff" stroke="#cfcfcf" stroke-width="0.8"/>
<polygon points="414,379 414,378.5 418.67,378.5 419.33,378.47 419.67,378.4 420,378.26 420.33,377.93 420.67,377.28 421,376.08 421.33,374.09 421.67,371.11 422,367.09 422.33,362.3 422.67,357.34 423,353.06 423.33,350.37 423.67,349.87 424,351.69 424.33,355.41 424.67,360.2 425,365.15 425.33,369.54 425.67,372.97 426,375.36 426.33,376.86 426.67,377.71 427,378.15 427.33,378.36 428,378.48 447,378.5 447,379" fill="#aeaeae" stroke="none"/>
<polyline points="414,378.5 422.33,378.5 423.33,378.47 424,378.35 424.33,378.2 424.67,377.91 425,377.42 425.33,376.62 425.67,375.37 426,373.57 426.33,371.1 426.67,367.95 427,364.19 427.33,360.04 427.67,355.86 428,352.1 428.33,349.23 428.67,347.64 429,347.56 429.33,349.01 429.67,351.77 430,355.46 430.33,359.62 430.67,363.79 431,367.6 431.33,370.82 431.67,373.35 432,375.22 432.33,376.51 432.67,377.36 433,377.87 433.33,378.17 433.67,378.34 434.33,378.47 447,378.5" fill="none" stroke="#1a1a1a" stroke-width="1.0" stroke-linejoin="round"/>
<line x1="414" y1="379" x2="447" y2="379" stroke="#7a7a7a" stroke-width="1"/>
<rect x="449.2" y="344.2" width="33" height="34.8" fill="#fff" stroke="#cfcfcf" stroke-width="0.8"/>
<polygon points="449.2,379 449.2,378.5 453.2,378.5 453.87,378.47 454.2,378.41 454.53,378.26 454.87,377.94 455.2,377.3 455.53,376.11 455.87,374.14 456.2,371.18 456.53,367.18 456.87,362.4 457.2,357.44 457.53,353.14 457.87,350.4 458.2,349.86 458.53,351.64 458.87,355.32 459.2,360.09 459.53,365.05 459.87,369.46 460.2,372.91 460.53,375.32 460.87,376.84 461.2,377.7 461.53,378.14 461.87,378.36 462.53,378.48 482.2,378.5 482.2,379" fill="#aeaeae" stroke="none"/>
<polyline points="449.2,378.5 456.2,378.5 457.2,378.47 457.87,378.35 458.2,378.2 458.53,377.93 458.87,377.45 459.2,376.66 459.53,375.43 459.87,373.65 460.2,371.22 460.53,368.09 460.87,364.35 461.2,360.21 461.53,356.03 461.87,352.24 462.2,349.32 462.53,347.68 462.87,347.54 463.2,348.92 463.53,351.64 463.87,355.3 464.2,359.45 464.53,363.62 464.87,367.46 465.2,370.7 465.53,373.27 465.87,375.16 466.2,376.47 466.53,377.33 466.87,377.86 467.2,378.16 467.53,378.33 468.2,378.46 482.2,378.5" fill="none" stroke="#1a1a1a" stroke-width="1.0" stroke-linejoin="round"/>
<line x1="449.2" y1="379" x2="482.2" y2="379" stroke="#7a7a7a" stroke-width="1"/>
<rect x="483.8" y="344.2" width="33" height="34.8" fill="#fff" stroke="#cfcfcf" stroke-width="0.8"/>
<polygon points="483.8,379 483.8,378.5 488.51,378.49 489.19,378.46 489.86,378.3 490.2,378.1 490.53,377.74 490.87,377.14 491.21,376.22 491.54,374.93 491.88,373.27 492.22,371.3 492.56,369.22 492.89,367.29 493.23,365.82 493.57,365.05 493.9,365.14 494.24,366.06 494.58,367.65 494.91,369.63 495.25,371.71 495.59,373.63 495.92,375.22 496.26,376.44 496.6,377.28 496.93,377.83 497.27,378.15 497.61,378.33 498.28,378.47 516.8,378.5 516.8,379" fill="#aeaeae" stroke="none"/>
<polyline points="483.8,378.5 489.19,378.49 489.86,378.46 490.2,378.4 490.53,378.28 490.87,378.03 491.21,377.54 491.54,376.68 491.88,375.27 492.22,373.11 492.56,370.09 492.89,366.2 493.23,361.65 493.57,356.87 493.9,352.48 494.24,349.17 494.58,347.52 494.91,347.84 495.25,350.07 495.59,353.8 495.92,358.39 496.26,363.16 496.6,367.54 496.93,371.16 497.27,373.89 497.61,375.79 497.94,377.01 498.28,377.73 498.62,378.13 498.95,378.33 499.63,378.47 516.8,378.5" fill="none" stroke="#1a1a1a" stroke-width="1.0" stroke-linejoin="round"/>
<line x1="483.8" y1="379" x2="516.8" y2="379" stroke="#7a7a7a" stroke-width="1"/>
<text transform="translate(259.1,410.4) scale(1,1.065)" font-size="16.4" font-weight="bold">F</text>
<text transform="translate(334.4,414) scale(1,1.03)" x="0" y="0" font-size="10.6" text-anchor="middle" font-weight="bold">kon</text>
<text transform="translate(334.2,426.2) scale(1,1.03)" x="0" y="0" font-size="10.2" text-anchor="middle" font-weight="bold">(10<tspan font-size="5.4" dy="-3.6" stroke-width="0.1">4</tspan><tspan dy="3.6"> M</tspan><tspan font-size="5.4" dy="-3.6" stroke-width="0.1">-1</tspan><tspan dy="3.6">s</tspan><tspan font-size="5.4" dy="-3.6" stroke-width="0.1">-1</tspan><tspan dy="3.6">)</tspan></text>
<text transform="translate(392.3,414) scale(1,1.03)" x="0" y="0" font-size="10.6" text-anchor="middle" font-weight="bold">koff</text>
<text transform="translate(392.3,426.2) scale(1,1.03)" x="0" y="0" font-size="10.2" text-anchor="middle" font-weight="bold">(10<tspan font-size="5.4" dy="-3.6" stroke-width="0.1">-3</tspan><tspan dy="3.6"> s</tspan><tspan font-size="5.4" dy="-3.6" stroke-width="0.1">-1</tspan><tspan dy="3.6">)</tspan></text>
<text transform="translate(443,414) scale(1,1.03)" x="0" y="0" font-size="10.0" text-anchor="middle" font-weight="bold">Half life</text>
<text transform="translate(442.9,426.2) scale(1,1.03)" x="0" y="0" font-size="10.2" text-anchor="middle" font-weight="bold">(s)</text>
<text transform="translate(490.9,413.6) scale(1,1.03)" x="0" y="0" font-size="10.6" text-anchor="middle" font-weight="bold">K<tspan font-size="7" dy="2.4">D</tspan></text>
<text transform="translate(491.3,426.2) scale(1,1.03)" x="0" y="0" font-size="10.2" text-anchor="middle" font-weight="bold">(nM)</text>
<line x1="258.6" y1="428.7" x2="516.5" y2="428.7" stroke="#111" stroke-width="1.3"/>
<text transform="translate(280.4,440) scale(1,1.03)" x="0" y="0" font-size="9.7" text-anchor="middle" font-weight="bold">hIgG1</text>
<text transform="translate(281.8,455.8) scale(1,1.03)" x="0" y="0" font-size="9.7" text-anchor="middle" font-weight="bold">mIgG2a</text>
<text transform="translate(334.2,440) scale(1,1.03)" x="0" y="0" font-size="9.9" text-anchor="middle">3.5 &#177; 0.8</text>
<text transform="translate(392.6,440) scale(1,1.03)" x="0" y="0" font-size="9.9" text-anchor="middle">1.4 &#177; 0.2</text>
<text transform="translate(442.6,440) scale(1,1.03)" x="0" y="0" font-size="9.9" text-anchor="middle">216 &#177; 17</text>
<text transform="translate(491.5,440) scale(1,1.03)" x="0" y="0" font-size="9.9" text-anchor="middle">41 &#177; 14</text>
<text transform="translate(334.2,455.8) scale(1,1.03)" x="0" y="0" font-size="9.9" text-anchor="middle">3.6 &#177; 0.6</text>
<text transform="translate(392.6,455.8) scale(1,1.03)" x="0" y="0" font-size="9.9" text-anchor="middle">1.1 &#177; 0.1</text>
<text transform="translate(442.6,455.8) scale(1,1.03)" x="0" y="0" font-size="9.9" text-anchor="middle">271 &#177; 30</text>
<text transform="translate(491.5,455.8) scale(1,1.03)" x="0" y="0" font-size="9.9" text-anchor="middle">38 &#177; 8</text>
</svg>
</body></html>
